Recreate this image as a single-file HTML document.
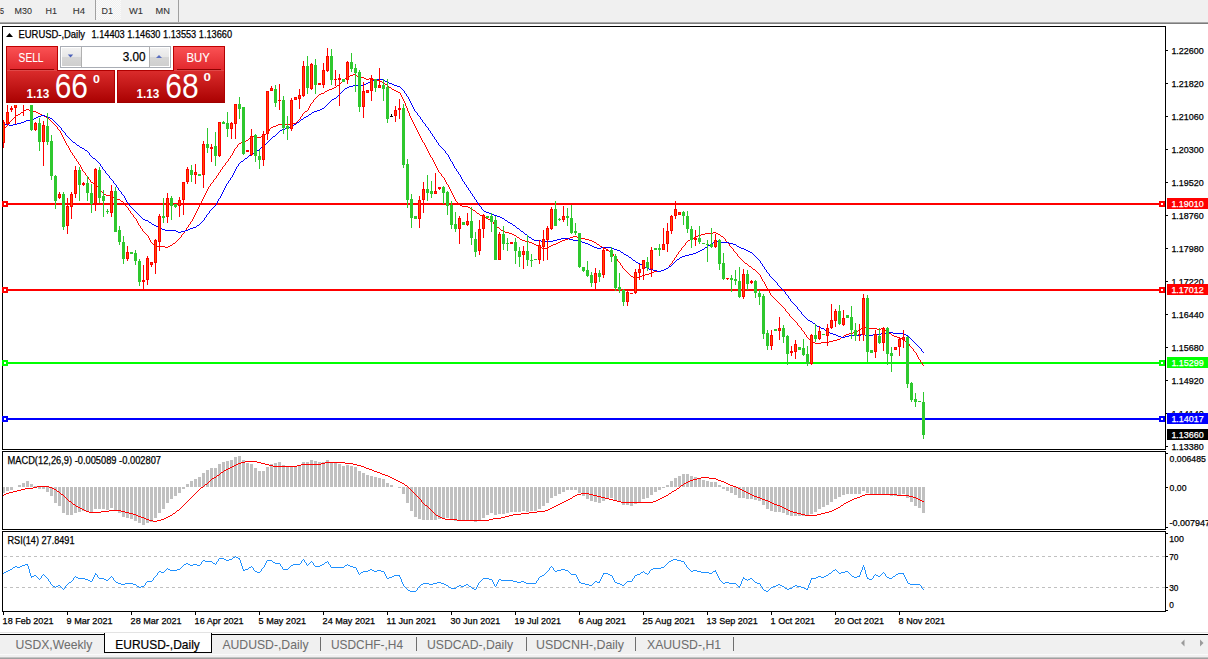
<!DOCTYPE html><html><head><meta charset="utf-8"><style>html,body{margin:0;padding:0;background:#fff;width:1208px;height:659px;overflow:hidden}</style></head><body><svg width="1208" height="659" viewBox="0 0 1208 659" style="display:block;font-family:'Liberation Sans', sans-serif"><defs><linearGradient id="gsell" x1="0" y1="0" x2="0" y2="1"><stop offset="0" stop-color="#fb5355"/><stop offset="1" stop-color="#e0262b"/></linearGradient><linearGradient id="gprice" x1="0" y1="0" x2="0" y2="1"><stop offset="0" stop-color="#db2d2d"/><stop offset="1" stop-color="#a90000"/></linearGradient><linearGradient id="gspin" x1="0" y1="0" x2="0" y2="1"><stop offset="0" stop-color="#f2f2f2"/><stop offset="0.5" stop-color="#e6e6e6"/><stop offset="0.5" stop-color="#d6d6d6"/><stop offset="1" stop-color="#cfcfcf"/></linearGradient><pattern id="dith" width="2" height="2" patternUnits="userSpaceOnUse"><rect width="2" height="2" fill="#f0f0f0"/><rect width="1" height="1" fill="#fafafa"/><rect x="1" y="1" width="1" height="1" fill="#fafafa"/></pattern></defs><rect x="0" y="0" width="1208" height="659" fill="#ffffff" /><rect x="0" y="0" width="1208" height="22" fill="#f0f0f0" /><rect x="95" y="0" width="26" height="20" fill="url(#dith)" /><rect x="95" y="0" width="1" height="20" fill="#a0a0a0" /><rect x="178" y="0" width="1" height="22" fill="#a0a0a0" /><text x="0" y="13.7" font-size="9.6" fill="#333" text-anchor="start" font-weight="normal" textLength="4" lengthAdjust="spacingAndGlyphs" stroke="#333" stroke-width="0.1" >5</text><text x="14.6" y="13.7" font-size="9.6" fill="#333" text-anchor="start" font-weight="normal" textLength="17.4" lengthAdjust="spacingAndGlyphs" stroke="#333" stroke-width="0.1" >M30</text><text x="45.5" y="13.7" font-size="9.6" fill="#333" text-anchor="start" font-weight="normal" textLength="11.5" lengthAdjust="spacingAndGlyphs" stroke="#333" stroke-width="0.1" >H1</text><text x="72.7" y="13.7" font-size="9.6" fill="#333" text-anchor="start" font-weight="normal" textLength="12.3" lengthAdjust="spacingAndGlyphs" stroke="#333" stroke-width="0.1" >H4</text><text x="101.6" y="13.7" font-size="9.6" fill="#333" text-anchor="start" font-weight="normal" textLength="11.4" lengthAdjust="spacingAndGlyphs" stroke="#333" stroke-width="0.1" >D1</text><text x="129" y="13.7" font-size="9.6" fill="#333" text-anchor="start" font-weight="normal" textLength="14" lengthAdjust="spacingAndGlyphs" stroke="#333" stroke-width="0.1" >W1</text><text x="155.6" y="13.7" font-size="9.6" fill="#333" text-anchor="start" font-weight="normal" textLength="14.4" lengthAdjust="spacingAndGlyphs" stroke="#333" stroke-width="0.1" >MN</text><rect x="0" y="22" width="1208" height="1" fill="#a9a9a9" /><rect x="0" y="23" width="1208" height="1" fill="#7c7c7c" /><g shape-rendering="crispEdges"><rect x="2.5" y="26.5" width="1163" height="423" fill="none" stroke="#000" stroke-width="1"/><rect x="0" y="450" width="1208" height="1" fill="#ffffff" /><rect x="2.5" y="451.5" width="1163" height="78" fill="none" stroke="#000" stroke-width="1"/><rect x="0" y="530" width="1208" height="1" fill="#ffffff" /><rect x="2.5" y="531.5" width="1163" height="80" fill="none" stroke="#000" stroke-width="1"/></g><g shape-rendering="crispEdges"><rect x="1166" y="50" width="2" height="1" fill="#000" /><rect x="1166" y="83" width="2" height="1" fill="#000" /><rect x="1166" y="116" width="2" height="1" fill="#000" /><rect x="1166" y="149" width="2" height="1" fill="#000" /><rect x="1166" y="182" width="2" height="1" fill="#000" /><rect x="1166" y="215" width="2" height="1" fill="#000" /><rect x="1166" y="248" width="2" height="1" fill="#000" /><rect x="1166" y="281" width="2" height="1" fill="#000" /><rect x="1166" y="314" width="2" height="1" fill="#000" /><rect x="1166" y="347" width="2" height="1" fill="#000" /><rect x="1166" y="380" width="2" height="1" fill="#000" /><rect x="1166" y="413" width="2" height="1" fill="#000" /><rect x="1166" y="446" width="2" height="1" fill="#000" /></g><text x="1171.4" y="53.6" font-size="9.6" fill="#000" text-anchor="start" font-weight="normal" textLength="32.4" lengthAdjust="spacingAndGlyphs" stroke="#000" stroke-width="0.25" >1.22600</text><text x="1171.4" y="86.6" font-size="9.6" fill="#000" text-anchor="start" font-weight="normal" textLength="32.4" lengthAdjust="spacingAndGlyphs" stroke="#000" stroke-width="0.25" >1.21820</text><text x="1171.4" y="119.6" font-size="9.6" fill="#000" text-anchor="start" font-weight="normal" textLength="32.4" lengthAdjust="spacingAndGlyphs" stroke="#000" stroke-width="0.25" >1.21060</text><text x="1171.4" y="152.6" font-size="9.6" fill="#000" text-anchor="start" font-weight="normal" textLength="32.4" lengthAdjust="spacingAndGlyphs" stroke="#000" stroke-width="0.25" >1.20300</text><text x="1171.4" y="185.6" font-size="9.6" fill="#000" text-anchor="start" font-weight="normal" textLength="32.4" lengthAdjust="spacingAndGlyphs" stroke="#000" stroke-width="0.25" >1.19520</text><text x="1171.4" y="218.6" font-size="9.6" fill="#000" text-anchor="start" font-weight="normal" textLength="32.4" lengthAdjust="spacingAndGlyphs" stroke="#000" stroke-width="0.25" >1.18760</text><text x="1171.4" y="251.6" font-size="9.6" fill="#000" text-anchor="start" font-weight="normal" textLength="32.4" lengthAdjust="spacingAndGlyphs" stroke="#000" stroke-width="0.25" >1.17980</text><text x="1171.4" y="284.6" font-size="9.6" fill="#000" text-anchor="start" font-weight="normal" textLength="32.4" lengthAdjust="spacingAndGlyphs" stroke="#000" stroke-width="0.25" >1.17220</text><text x="1171.4" y="317.6" font-size="9.6" fill="#000" text-anchor="start" font-weight="normal" textLength="32.4" lengthAdjust="spacingAndGlyphs" stroke="#000" stroke-width="0.25" >1.16440</text><text x="1171.4" y="350.6" font-size="9.6" fill="#000" text-anchor="start" font-weight="normal" textLength="32.4" lengthAdjust="spacingAndGlyphs" stroke="#000" stroke-width="0.25" >1.15680</text><text x="1171.4" y="383.6" font-size="9.6" fill="#000" text-anchor="start" font-weight="normal" textLength="32.4" lengthAdjust="spacingAndGlyphs" stroke="#000" stroke-width="0.25" >1.14920</text><text x="1171.4" y="416.6" font-size="9.6" fill="#000" text-anchor="start" font-weight="normal" textLength="32.4" lengthAdjust="spacingAndGlyphs" stroke="#000" stroke-width="0.25" >1.14140</text><text x="1171.4" y="449.6" font-size="9.6" fill="#000" text-anchor="start" font-weight="normal" textLength="32.4" lengthAdjust="spacingAndGlyphs" stroke="#000" stroke-width="0.25" >1.13380</text><clipPath id="cmain"><rect x="3" y="27" width="1162" height="422"/></clipPath><clipPath id="cmacd"><rect x="3" y="452" width="1162" height="77"/></clipPath><clipPath id="crsi"><rect x="3" y="532" width="1162" height="79"/></clipPath><g shape-rendering="crispEdges"><rect x="3" y="203" width="1162" height="2" fill="#ff0000" /><rect x="2" y="201" width="6" height="6" fill="#ff0000" /><rect x="4" y="203" width="2" height="2" fill="#fff" /><rect x="1159" y="201" width="6" height="6" fill="#ff0000" /><rect x="1161" y="203" width="2" height="2" fill="#fff" /><rect x="3" y="289" width="1162" height="2" fill="#ff0000" /><rect x="2" y="287" width="6" height="6" fill="#ff0000" /><rect x="4" y="289" width="2" height="2" fill="#fff" /><rect x="1159" y="287" width="6" height="6" fill="#ff0000" /><rect x="1161" y="289" width="2" height="2" fill="#fff" /><rect x="3" y="362" width="1162" height="2" fill="#00ff00" /><rect x="2" y="360" width="6" height="6" fill="#00ff00" /><rect x="4" y="362" width="2" height="2" fill="#fff" /><rect x="1159" y="360" width="6" height="6" fill="#00ff00" /><rect x="1161" y="362" width="2" height="2" fill="#fff" /><rect x="3" y="418" width="1162" height="2" fill="#0000ff" /><rect x="2" y="416" width="6" height="6" fill="#0000ff" /><rect x="4" y="418" width="2" height="2" fill="#fff" /><rect x="1159" y="416" width="6" height="6" fill="#0000ff" /><rect x="1161" y="418" width="2" height="2" fill="#fff" /></g><path clip-path="url(#cmain)" fill="#ff0000" shape-rendering="crispEdges" d="M801 329h1v1h-1zM860 329h1v1h-1zM877 329h4v1h-4zM884 329h1v1h-1zM151 242h1v1h-1zM175 242h1v1h-1zM529 242h3v1h-3zM558 242h2v1h-2zM594 242h2v1h-2zM686 242h1v1h-1zM727 242h1v1h-1zM781 305h1v1h-1zM345 78h2v1h-2zM364 78h2v1h-2zM369 78h4v1h-4zM4 128h1v1h-1zM57 128h1v1h-1zM270 128h1v1h-1zM416 128h1v1h-1zM24 110h2v1h-2zM29 110h4v1h-4zM307 110h1v1h-1zM407 110h1v1h-1zM131 213h1v1h-1zM195 213h1v1h-1zM477 213h2v1h-2zM329 89h3v1h-3zM392 89h2v1h-2zM146 234h1v1h-1zM182 234h1v1h-1zM512 234h2v1h-2zM701 234h4v1h-4zM718 234h2v1h-2zM150 240h1v1h-1zM177 240h1v1h-1zM522 240h3v1h-3zM562 240h3v1h-3zM589 240h3v1h-3zM688 240h2v1h-2zM725 240h1v1h-1zM800 327h1v1h-1zM862 327h1v1h-1zM865 327h4v1h-4zM125 205h1v1h-1zM199 205h1v1h-1zM460 205h2v1h-2zM807 337h1v1h-1zM841 337h2v1h-2zM897 337h3v1h-3zM327 90h2v1h-2zM394 90h2v1h-2zM115 198h2v1h-2zM203 198h1v1h-1zM454 198h1v1h-1zM10 121h1v1h-1zM51 121h1v1h-1zM297 121h1v1h-1zM412 121h1v1h-1zM617 259h1v1h-1zM674 259h1v1h-1zM741 259h1v1h-1zM14 117h1v1h-1zM46 117h2v1h-2zM300 117h1v1h-1zM410 117h1v1h-1zM626 271h1v1h-1zM654 271h7v1h-7zM756 271h1v1h-1zM127 207h1v1h-1zM198 207h1v1h-1zM468 207h2v1h-2zM813 342h2v1h-2zM821 342h8v1h-8zM907 342h1v1h-1zM147 235h1v1h-1zM181 235h1v1h-1zM514 235h2v1h-2zM698 235h3v1h-3zM720 235h1v1h-1zM542 248h6v1h-6zM604 248h2v1h-2zM681 248h1v1h-1zM732 248h1v1h-1zM61 133h1v1h-1zM266 133h1v1h-1zM418 133h1v1h-1zM86 175h1v1h-1zM217 175h1v1h-1zM441 175h1v1h-1zM339 84h1v1h-1zM385 84h2v1h-2zM3 129h1v1h-1zM58 129h1v1h-1zM269 129h1v1h-1zM416 129h1v1h-1zM126 206h1v1h-1zM199 206h1v1h-1zM462 206h6v1h-6zM625 270h1v1h-1zM661 270h3v1h-3zM755 270h1v1h-1zM812 341h1v1h-1zM829 341h4v1h-4zM905 341h2v1h-2zM804 333h1v1h-1zM849 333h4v1h-4zM889 333h2v1h-2zM336 86h1v1h-1zM388 86h1v1h-1zM157 246h8v1h-8zM168 246h2v1h-2zM538 246h2v1h-2zM549 246h2v1h-2zM600 246h2v1h-2zM683 246h1v1h-1zM730 246h1v1h-1zM324 92h1v1h-1zM398 92h2v1h-2zM148 237h1v1h-1zM180 237h1v1h-1zM517 237h2v1h-2zM570 237h3v1h-3zM577 237h4v1h-4zM694 237h2v1h-2zM723 237h1v1h-1zM117 199h3v1h-3zM202 199h1v1h-1zM455 199h1v1h-1zM308 108h1v1h-1zM407 108h1v1h-1zM313 101h1v1h-1zM404 101h1v1h-1zM630 275h1v1h-1zM642 275h3v1h-3zM760 275h1v1h-1zM622 266h1v1h-1zM669 266h1v1h-1zM749 266h2v1h-2zM344 79h1v1h-1zM366 79h3v1h-3zM373 79h4v1h-4zM90 181h1v1h-1zM213 181h1v1h-1zM445 181h1v1h-1zM334 87h2v1h-2zM389 87h2v1h-2zM801 328h1v1h-1zM861 328h1v1h-1zM869 328h8v1h-8zM881 328h3v1h-3zM20 113h1v1h-1zM38 113h2v1h-2zM303 113h1v1h-1zM409 113h1v1h-1zM60 132h1v1h-1zM267 132h1v1h-1zM418 132h1v1h-1zM631 276h2v1h-2zM640 276h2v1h-2zM760 276h1v1h-1zM153 244h2v1h-2zM172 244h1v1h-1zM534 244h2v1h-2zM553 244h3v1h-3zM597 244h2v1h-2zM685 244h1v1h-1zM729 244h1v1h-1zM112 196h1v1h-1zM204 196h1v1h-1zM453 196h1v1h-1zM920 360h1v1h-1zM128 208h1v1h-1zM198 208h1v1h-1zM470 208h2v1h-2zM145 233h1v1h-1zM183 233h1v1h-1zM509 233h3v1h-3zM705 233h8v1h-8zM716 233h2v1h-2zM612 253h1v1h-1zM678 253h1v1h-1zM736 253h1v1h-1zM614 256h1v1h-1zM676 256h1v1h-1zM738 256h1v1h-1zM69 149h1v1h-1zM234 149h1v1h-1zM427 149h1v1h-1zM62 136h1v1h-1zM253 136h4v1h-4zM261 136h3v1h-3zM420 136h1v1h-1zM7 125h1v1h-1zM55 125h1v1h-1zM276 125h2v1h-2zM414 125h1v1h-1zM799 326h1v1h-1zM863 326h2v1h-2zM916 353h1v1h-1zM93 183h3v1h-3zM211 183h1v1h-1zM446 183h1v1h-1zM102 192h1v1h-1zM206 192h1v1h-1zM451 192h1v1h-1zM12 119h1v1h-1zM49 119h1v1h-1zM299 119h1v1h-1zM411 119h1v1h-1zM138 224h1v1h-1zM189 224h1v1h-1zM494 224h1v1h-1zM113 197h2v1h-2zM203 197h1v1h-1zM454 197h1v1h-1zM80 166h1v1h-1zM223 166h1v1h-1zM436 166h1v1h-1zM802 330h1v1h-1zM858 330h2v1h-2zM885 330h2v1h-2zM80 165h1v1h-1zM224 165h1v1h-1zM435 165h1v1h-1zM63 138h1v1h-1zM249 138h2v1h-2zM421 138h1v1h-1zM130 212h1v1h-1zM196 212h1v1h-1zM476 212h1v1h-1zM139 225h1v1h-1zM188 225h1v1h-1zM495 225h1v1h-1zM100 190h1v1h-1zM207 190h1v1h-1zM450 190h1v1h-1zM803 331h1v1h-1zM856 331h2v1h-2zM887 331h1v1h-1zM133 215h1v1h-1zM194 215h1v1h-1zM480 215h2v1h-2zM343 80h1v1h-1zM377 80h3v1h-3zM348 76h2v1h-2zM357 76h2v1h-2zM74 156h1v1h-1zM230 156h1v1h-1zM430 156h1v1h-1zM809 339h2v1h-2zM837 339h3v1h-3zM902 339h2v1h-2zM144 232h1v1h-1zM184 232h1v1h-1zM505 232h4v1h-4zM713 232h3v1h-3zM9 123h1v1h-1zM53 123h1v1h-1zM293 123h3v1h-3zM413 123h1v1h-1zM316 97h1v1h-1zM402 97h1v1h-1zM6 126h1v1h-1zM56 126h1v1h-1zM273 126h3v1h-3zM415 126h1v1h-1zM8 124h1v1h-1zM54 124h1v1h-1zM278 124h15v1h-15zM414 124h1v1h-1zM85 173h1v1h-1zM218 173h1v1h-1zM440 173h1v1h-1zM148 236h1v1h-1zM181 236h1v1h-1zM516 236h1v1h-1zM573 236h4v1h-4zM696 236h2v1h-2zM721 236h2v1h-2zM149 239h1v1h-1zM178 239h1v1h-1zM520 239h2v1h-2zM565 239h3v1h-3zM585 239h4v1h-4zM690 239h2v1h-2zM725 239h1v1h-1zM770 294h1v1h-1zM319 94h2v1h-2zM400 94h1v1h-1zM633 277h7v1h-7zM761 277h1v1h-1zM608 250h1v1h-1zM680 250h1v1h-1zM733 250h1v1h-1zM619 262h1v1h-1zM672 262h1v1h-1zM744 262h1v1h-1zM137 222h1v1h-1zM190 222h1v1h-1zM493 222h1v1h-1zM63 137h1v1h-1zM251 137h2v1h-2zM257 137h4v1h-4zM420 137h1v1h-1zM89 179h1v1h-1zM214 179h1v1h-1zM444 179h1v1h-1zM353 74h3v1h-3zM792 318h1v1h-1zM909 345h1v1h-1zM155 245h2v1h-2zM170 245h2v1h-2zM536 245h2v1h-2zM551 245h2v1h-2zM599 245h1v1h-1zM684 245h1v1h-1zM729 245h1v1h-1zM59 130h1v1h-1zM269 130h1v1h-1zM417 130h1v1h-1zM149 238h1v1h-1zM179 238h1v1h-1zM519 238h1v1h-1zM568 238h2v1h-2zM581 238h4v1h-4zM692 238h2v1h-2zM724 238h1v1h-1zM165 247h3v1h-3zM540 247h2v1h-2zM548 247h1v1h-1zM602 247h2v1h-2zM682 247h1v1h-1zM731 247h1v1h-1zM123 202h1v1h-1zM201 202h1v1h-1zM457 202h1v1h-1zM923 365h1v1h-1zM84 172h1v1h-1zM219 172h1v1h-1zM439 172h1v1h-1zM623 268h1v1h-1zM666 268h2v1h-2zM752 268h1v1h-1zM21 112h2v1h-2zM36 112h2v1h-2zM304 112h1v1h-1zM408 112h1v1h-1zM613 255h1v1h-1zM676 255h1v1h-1zM737 255h1v1h-1zM347 77h1v1h-1zM359 77h5v1h-5zM615 257h1v1h-1zM675 257h1v1h-1zM739 257h1v1h-1zM609 251h2v1h-2zM679 251h1v1h-1zM734 251h1v1h-1zM622 267h1v1h-1zM668 267h1v1h-1zM751 267h1v1h-1zM142 229h1v1h-1zM186 229h1v1h-1zM500 229h1v1h-1zM340 83h1v1h-1zM384 83h1v1h-1zM64 140h1v1h-1zM246 140h2v1h-2zM422 140h1v1h-1zM26 109h3v1h-3zM308 109h1v1h-1zM407 109h1v1h-1zM18 114h2v1h-2zM40 114h2v1h-2zM302 114h1v1h-1zM409 114h1v1h-1zM76 159h1v1h-1zM228 159h1v1h-1zM432 159h1v1h-1zM606 249h2v1h-2zM681 249h1v1h-1zM733 249h1v1h-1zM79 164h1v1h-1zM225 164h1v1h-1zM435 164h1v1h-1zM120 200h1v1h-1zM202 200h1v1h-1zM455 200h1v1h-1zM309 106h1v1h-1zM406 106h1v1h-1zM785 310h1v1h-1zM11 120h1v1h-1zM50 120h1v1h-1zM298 120h1v1h-1zM412 120h1v1h-1zM71 152h1v1h-1zM233 152h1v1h-1zM428 152h1v1h-1zM766 287h1v1h-1zM342 81h1v1h-1zM380 81h2v1h-2zM150 241h1v1h-1zM176 241h1v1h-1zM525 241h4v1h-4zM560 241h2v1h-2zM592 241h2v1h-2zM687 241h1v1h-1zM726 241h1v1h-1zM815 343h6v1h-6zM908 343h1v1h-1zM99 189h1v1h-1zM207 189h1v1h-1zM450 189h1v1h-1zM96 185h1v1h-1zM210 185h1v1h-1zM448 185h1v1h-1zM762 280h1v1h-1zM81 168h1v1h-1zM222 168h1v1h-1zM437 168h1v1h-1zM104 194h2v1h-2zM205 194h1v1h-1zM452 194h1v1h-1zM128 209h1v1h-1zM197 209h1v1h-1zM472 209h1v1h-1zM313 100h1v1h-1zM403 100h1v1h-1zM325 91h2v1h-2zM396 91h2v1h-2zM106 195h6v1h-6zM204 195h1v1h-1zM453 195h1v1h-1zM776 300h1v1h-1zM60 131h1v1h-1zM268 131h1v1h-1zM417 131h1v1h-1zM786 311h1v1h-1zM78 162h1v1h-1zM226 162h1v1h-1zM434 162h1v1h-1zM75 158h1v1h-1zM229 158h1v1h-1zM432 158h1v1h-1zM805 334h1v1h-1zM846 334h3v1h-3zM891 334h1v1h-1zM82 170h1v1h-1zM220 170h1v1h-1zM438 170h1v1h-1zM777 301h1v1h-1zM98 188h1v1h-1zM208 188h1v1h-1zM449 188h1v1h-1zM125 204h1v1h-1zM200 204h1v1h-1zM459 204h1v1h-1zM350 75h3v1h-3zM356 75h1v1h-1zM65 142h1v1h-1zM241 142h3v1h-3zM423 142h1v1h-1zM87 176h1v1h-1zM216 176h1v1h-1zM442 176h1v1h-1zM129 210h1v1h-1zM197 210h1v1h-1zM473 210h2v1h-2zM74 157h1v1h-1zM230 157h1v1h-1zM431 157h1v1h-1zM141 228h1v1h-1zM186 228h1v1h-1zM499 228h1v1h-1zM783 307h1v1h-1zM310 105h1v1h-1zM405 105h1v1h-1zM804 332h1v1h-1zM853 332h3v1h-3zM888 332h1v1h-1zM88 178h1v1h-1zM215 178h1v1h-1zM444 178h1v1h-1zM70 151h1v1h-1zM233 151h1v1h-1zM428 151h1v1h-1zM64 139h1v1h-1zM248 139h1v1h-1zM421 139h1v1h-1zM628 273h1v1h-1zM649 273h3v1h-3zM758 273h1v1h-1zM784 308h1v1h-1zM627 272h1v1h-1zM652 272h2v1h-2zM757 272h1v1h-1zM765 285h1v1h-1zM806 335h1v1h-1zM844 335h2v1h-2zM892 335h2v1h-2zM769 292h1v1h-1zM15 116h1v1h-1zM44 116h2v1h-2zM301 116h1v1h-1zM410 116h1v1h-1zM620 264h1v1h-1zM670 264h1v1h-1zM747 264h1v1h-1zM134 217h1v1h-1zM193 217h1v1h-1zM484 217h2v1h-2zM922 363h1v1h-1zM315 98h1v1h-1zM402 98h1v1h-1zM136 220h1v1h-1zM192 220h1v1h-1zM490 220h2v1h-2zM321 93h3v1h-3zM400 93h1v1h-1zM103 193h1v1h-1zM205 193h1v1h-1zM452 193h1v1h-1zM9 122h1v1h-1zM52 122h1v1h-1zM296 122h1v1h-1zM413 122h1v1h-1zM143 231h1v1h-1zM184 231h1v1h-1zM503 231h2v1h-2zM78 163h1v1h-1zM225 163h1v1h-1zM434 163h1v1h-1zM13 118h1v1h-1zM48 118h1v1h-1zM300 118h1v1h-1zM411 118h1v1h-1zM16 115h2v1h-2zM42 115h2v1h-2zM302 115h1v1h-1zM409 115h1v1h-1zM66 144h1v1h-1zM238 144h1v1h-1zM424 144h1v1h-1zM135 218h1v1h-1zM193 218h1v1h-1zM486 218h2v1h-2zM23 111h1v1h-1zM33 111h3v1h-3zM305 111h2v1h-2zM408 111h1v1h-1zM806 336h1v1h-1zM843 336h1v1h-1zM894 336h3v1h-3zM152 243h1v1h-1zM173 243h2v1h-2zM532 243h2v1h-2zM556 243h2v1h-2zM596 243h1v1h-1zM685 243h1v1h-1zM728 243h1v1h-1zM70 150h1v1h-1zM234 150h1v1h-1zM427 150h1v1h-1zM133 216h1v1h-1zM194 216h1v1h-1zM482 216h2v1h-2zM811 340h1v1h-1zM833 340h4v1h-4zM904 340h1v1h-1zM65 141h1v1h-1zM244 141h2v1h-2zM422 141h1v1h-1zM332 88h2v1h-2zM391 88h1v1h-1zM142 230h1v1h-1zM185 230h1v1h-1zM501 230h2v1h-2zM310 104h1v1h-1zM405 104h1v1h-1zM618 261h1v1h-1zM672 261h1v1h-1zM743 261h1v1h-1zM761 278h1v1h-1zM88 177h1v1h-1zM216 177h1v1h-1zM443 177h1v1h-1zM121 201h2v1h-2zM201 201h1v1h-1zM456 201h1v1h-1zM765 284h1v1h-1zM5 127h1v1h-1zM57 127h1v1h-1zM271 127h2v1h-2zM415 127h1v1h-1zM808 338h1v1h-1zM840 338h1v1h-1zM900 338h2v1h-2zM98 187h1v1h-1zM208 187h1v1h-1zM449 187h1v1h-1zM613 254h1v1h-1zM677 254h1v1h-1zM737 254h1v1h-1zM97 186h1v1h-1zM209 186h1v1h-1zM448 186h1v1h-1zM318 95h1v1h-1zM401 95h1v1h-1zM72 153h1v1h-1zM232 153h1v1h-1zM429 153h1v1h-1zM77 161h1v1h-1zM227 161h1v1h-1zM433 161h1v1h-1zM85 174h1v1h-1zM218 174h1v1h-1zM441 174h1v1h-1zM617 260h1v1h-1zM673 260h1v1h-1zM742 260h1v1h-1zM624 269h1v1h-1zM664 269h2v1h-2zM753 269h2v1h-2zM132 214h1v1h-1zM195 214h1v1h-1zM479 214h1v1h-1zM73 155h1v1h-1zM231 155h1v1h-1zM430 155h1v1h-1zM76 160h1v1h-1zM228 160h1v1h-1zM433 160h1v1h-1zM91 182h2v1h-2zM212 182h1v1h-1zM446 182h1v1h-1zM337 85h2v1h-2zM387 85h1v1h-1zM768 290h1v1h-1zM66 143h1v1h-1zM239 143h2v1h-2zM424 143h1v1h-1zM136 219h1v1h-1zM192 219h1v1h-1zM488 219h2v1h-2zM312 102h1v1h-1zM404 102h1v1h-1zM341 82h1v1h-1zM382 82h2v1h-2zM764 283h1v1h-1zM793 319h1v1h-1zM629 274h1v1h-1zM645 274h4v1h-4zM759 274h1v1h-1zM90 180h1v1h-1zM213 180h1v1h-1zM445 180h1v1h-1zM311 103h1v1h-1zM405 103h1v1h-1zM611 252h1v1h-1zM678 252h1v1h-1zM735 252h1v1h-1zM794 320h1v1h-1zM140 226h1v1h-1zM188 226h1v1h-1zM496 226h1v1h-1zM72 154h1v1h-1zM232 154h1v1h-1zM429 154h1v1h-1zM779 303h1v1h-1zM68 147h1v1h-1zM236 147h1v1h-1zM426 147h1v1h-1zM771 295h1v1h-1zM69 148h1v1h-1zM235 148h1v1h-1zM426 148h1v1h-1zM621 265h1v1h-1zM669 265h1v1h-1zM748 265h1v1h-1zM767 288h1v1h-1zM910 346h1v1h-1zM768 289h1v1h-1zM124 203h1v1h-1zM200 203h1v1h-1zM458 203h1v1h-1zM317 96h1v1h-1zM401 96h1v1h-1zM778 302h1v1h-1zM101 191h1v1h-1zM206 191h1v1h-1zM451 191h1v1h-1zM616 258h1v1h-1zM674 258h1v1h-1zM740 258h1v1h-1zM309 107h1v1h-1zM406 107h1v1h-1zM96 184h1v1h-1zM210 184h1v1h-1zM447 184h1v1h-1zM130 211h1v1h-1zM196 211h1v1h-1zM475 211h1v1h-1zM912 348h1v1h-1zM770 293h1v1h-1zM68 146h1v1h-1zM237 146h1v1h-1zM425 146h1v1h-1zM763 281h1v1h-1zM909 344h1v1h-1zM61 134h1v1h-1zM265 134h1v1h-1zM419 134h1v1h-1zM797 324h1v1h-1zM137 221h1v1h-1zM191 221h1v1h-1zM492 221h1v1h-1zM785 309h1v1h-1zM766 286h1v1h-1zM620 263h1v1h-1zM671 263h1v1h-1zM745 263h2v1h-2zM789 315h1v1h-1zM762 279h1v1h-1zM81 167h1v1h-1zM222 167h1v1h-1zM436 167h1v1h-1zM913 350h1v1h-1zM314 99h1v1h-1zM403 99h1v1h-1zM795 321h1v1h-1zM796 322h1v1h-1zM67 145h1v1h-1zM237 145h1v1h-1zM425 145h1v1h-1zM769 291h1v1h-1zM788 313h1v1h-1zM920 361h1v1h-1zM913 349h1v1h-1zM916 354h1v1h-1zM140 227h1v1h-1zM187 227h1v1h-1zM497 227h2v1h-2zM787 312h1v1h-1zM772 296h1v1h-1zM773 297h1v1h-1zM138 223h1v1h-1zM190 223h1v1h-1zM493 223h1v1h-1zM911 347h1v1h-1zM780 304h1v1h-1zM62 135h1v1h-1zM264 135h1v1h-1zM419 135h1v1h-1zM764 282h1v1h-1zM791 317h1v1h-1zM918 358h1v1h-1zM919 359h1v1h-1zM83 171h1v1h-1zM220 171h1v1h-1zM438 171h1v1h-1zM798 325h1v1h-1zM82 169h1v1h-1zM221 169h1v1h-1zM437 169h1v1h-1zM790 316h1v1h-1zM914 351h1v1h-1zM922 364h1v1h-1zM915 352h1v1h-1zM918 357h1v1h-1zM774 298h1v1h-1zM917 356h1v1h-1zM775 299h1v1h-1zM921 362h1v1h-1zM797 323h1v1h-1zM782 306h1v1h-1zM789 314h1v1h-1zM917 355h1v1h-1z"/><path clip-path="url(#cmain)" fill="#0000ff" shape-rendering="crispEdges" d="M105 171h1v1h-1zM234 171h1v1h-1zM457 171h1v1h-1zM67 136h1v1h-1zM273 136h2v1h-2zM433 136h1v1h-1zM126 200h1v1h-1zM218 200h1v1h-1zM476 200h1v1h-1zM97 161h1v1h-1zM241 161h2v1h-2zM451 161h1v1h-1zM162 229h3v1h-3zM188 229h2v1h-2zM519 229h1v1h-1zM176 231h2v1h-2zM181 231h4v1h-4zM521 231h2v1h-2zM80 147h2v1h-2zM261 147h2v1h-2zM441 147h1v1h-1zM101 166h1v1h-1zM237 166h1v1h-1zM454 166h1v1h-1zM105 172h1v1h-1zM234 172h1v1h-1zM458 172h1v1h-1zM111 179h1v1h-1zM230 179h1v1h-1zM462 179h1v1h-1zM841 337h4v1h-4zM909 337h1v1h-1zM135 211h1v1h-1zM209 211h1v1h-1zM484 211h2v1h-2zM121 192h1v1h-1zM222 192h1v1h-1zM470 192h1v1h-1zM657 271h4v1h-4zM766 271h1v1h-1zM61 128h1v1h-1zM285 128h3v1h-3zM428 128h1v1h-1zM65 134h1v1h-1zM276 134h1v1h-1zM432 134h1v1h-1zM36 117h2v1h-2zM48 117h2v1h-2zM304 117h2v1h-2zM420 117h1v1h-1zM377 79h7v1h-7zM532 239h2v1h-2zM557 239h4v1h-4zM569 239h4v1h-4zM534 240h7v1h-7zM553 240h4v1h-4zM573 240h7v1h-7zM3 124h6v1h-6zM13 124h4v1h-4zM57 124h1v1h-1zM294 124h2v1h-2zM425 124h1v1h-1zM65 133h1v1h-1zM277 133h1v1h-1zM431 133h1v1h-1zM109 177h1v1h-1zM231 177h1v1h-1zM461 177h1v1h-1zM156 226h2v1h-2zM196 226h1v1h-1zM515 226h1v1h-1zM160 228h2v1h-2zM190 228h3v1h-3zM517 228h2v1h-2zM89 154h1v1h-1zM251 154h1v1h-1zM447 154h1v1h-1zM149 222h2v1h-2zM201 222h1v1h-1zM508 222h2v1h-2zM541 241h12v1h-12zM580 241h2v1h-2zM715 241h6v1h-6zM790 300h1v1h-1zM833 334h3v1h-3zM861 334h4v1h-4zM873 334h8v1h-8zM904 334h2v1h-2zM825 330h2v1h-2zM34 118h2v1h-2zM50 118h2v1h-2zM303 118h1v1h-1zM420 118h1v1h-1zM116 185h1v1h-1zM226 185h1v1h-1zM466 185h1v1h-1zM62 130h1v1h-1zM280 130h2v1h-2zM429 130h1v1h-1zM644 266h1v1h-1zM669 266h2v1h-2zM763 266h1v1h-1zM70 139h1v1h-1zM270 139h1v1h-1zM435 139h1v1h-1zM528 236h1v1h-1zM631 258h1v1h-1zM679 258h1v1h-1zM757 258h1v1h-1zM910 338h1v1h-1zM347 87h2v1h-2zM400 87h1v1h-1zM100 165h1v1h-1zM238 165h1v1h-1zM453 165h1v1h-1zM819 327h2v1h-2zM836 335h2v1h-2zM849 335h12v1h-12zM865 335h8v1h-8zM906 335h2v1h-2zM349 86h4v1h-4zM397 86h3v1h-3zM797 308h1v1h-1zM529 237h2v1h-2zM89 153h1v1h-1zM252 153h2v1h-2zM446 153h1v1h-1zM72 141h1v1h-1zM268 141h1v1h-1zM436 141h1v1h-1zM623 253h1v1h-1zM693 253h3v1h-3zM752 253h1v1h-1zM614 249h3v1h-3zM702 249h2v1h-2zM744 249h2v1h-2zM364 84h2v1h-2zM392 84h2v1h-2zM26 120h6v1h-6zM53 120h1v1h-1zM300 120h1v1h-1zM422 120h1v1h-1zM314 111h3v1h-3zM415 111h1v1h-1zM778 285h1v1h-1zM145 220h3v1h-3zM203 220h1v1h-1zM505 220h2v1h-2zM124 197h1v1h-1zM220 197h1v1h-1zM474 197h1v1h-1zM821 328h3v1h-3zM339 94h1v1h-1zM406 94h1v1h-1zM38 116h3v1h-3zM45 116h3v1h-3zM306 116h2v1h-2zM419 116h1v1h-1zM127 202h1v1h-1zM217 202h1v1h-1zM477 202h1v1h-1zM916 344h1v1h-1zM328 103h1v1h-1zM411 103h1v1h-1zM139 215h1v1h-1zM206 215h1v1h-1zM494 215h3v1h-3zM582 242h3v1h-3zM713 242h2v1h-2zM721 242h8v1h-8zM165 230h11v1h-11zM185 230h3v1h-3zM520 230h1v1h-1zM353 85h11v1h-11zM394 85h3v1h-3zM917 345h1v1h-1zM98 162h1v1h-1zM240 162h1v1h-1zM452 162h1v1h-1zM136 212h1v1h-1zM209 212h1v1h-1zM486 212h3v1h-3zM624 254h2v1h-2zM689 254h4v1h-4zM753 254h1v1h-1zM629 257h2v1h-2zM680 257h2v1h-2zM756 257h1v1h-1zM785 293h1v1h-1zM115 184h1v1h-1zM226 184h1v1h-1zM465 184h1v1h-1zM838 336h3v1h-3zM845 336h4v1h-4zM908 336h1v1h-1zM815 324h1v1h-1zM134 210h1v1h-1zM210 210h1v1h-1zM483 210h1v1h-1zM594 247h3v1h-3zM601 247h11v1h-11zM705 247h2v1h-2zM739 247h2v1h-2zM817 326h2v1h-2zM588 244h2v1h-2zM710 244h2v1h-2zM733 244h3v1h-3zM140 216h1v1h-1zM206 216h1v1h-1zM497 216h3v1h-3zM119 190h1v1h-1zM223 190h1v1h-1zM469 190h1v1h-1zM597 248h4v1h-4zM612 248h2v1h-2zM704 248h1v1h-1zM741 248h3v1h-3zM64 132h1v1h-1zM278 132h1v1h-1zM430 132h1v1h-1zM531 238h1v1h-1zM561 238h8v1h-8zM633 260h2v1h-2zM676 260h1v1h-1zM759 260h1v1h-1zM626 255h2v1h-2zM685 255h4v1h-4zM754 255h1v1h-1zM125 199h1v1h-1zM218 199h1v1h-1zM475 199h1v1h-1zM770 276h1v1h-1zM108 175h1v1h-1zM232 175h1v1h-1zM460 175h1v1h-1zM830 333h3v1h-3zM881 333h8v1h-8zM893 333h11v1h-11zM647 268h2v1h-2zM666 268h2v1h-2zM764 268h1v1h-1zM154 225h2v1h-2zM197 225h2v1h-2zM513 225h2v1h-2zM126 201h1v1h-1zM217 201h1v1h-1zM476 201h1v1h-1zM771 277h1v1h-1zM795 305h1v1h-1zM9 125h4v1h-4zM58 125h1v1h-1zM292 125h2v1h-2zM425 125h1v1h-1zM621 252h2v1h-2zM696 252h2v1h-2zM750 252h2v1h-2zM71 140h1v1h-1zM269 140h1v1h-1zM436 140h1v1h-1zM649 269h4v1h-4zM664 269h2v1h-2zM765 269h1v1h-1zM828 332h2v1h-2zM889 332h4v1h-4zM777 284h1v1h-1zM345 88h2v1h-2zM401 88h1v1h-1zM85 150h2v1h-2zM257 150h2v1h-2zM444 150h1v1h-1zM796 306h1v1h-1zM90 155h1v1h-1zM249 155h2v1h-2zM448 155h1v1h-1zM100 164h1v1h-1zM238 164h1v1h-1zM453 164h1v1h-1zM130 206h1v1h-1zM214 206h1v1h-1zM480 206h1v1h-1zM585 243h3v1h-3zM712 243h1v1h-1zM729 243h4v1h-4zM123 195h1v1h-1zM221 195h1v1h-1zM472 195h1v1h-1zM110 178h1v1h-1zM230 178h1v1h-1zM461 178h1v1h-1zM151 223h1v1h-1zM200 223h1v1h-1zM510 223h2v1h-2zM17 123h4v1h-4zM56 123h1v1h-1zM296 123h1v1h-1zM424 123h1v1h-1zM41 115h4v1h-4zM308 115h1v1h-1zM418 115h1v1h-1zM645 267h2v1h-2zM668 267h1v1h-1zM764 267h1v1h-1zM76 144h1v1h-1zM265 144h1v1h-1zM438 144h1v1h-1zM813 323h2v1h-2zM142 218h1v1h-1zM204 218h1v1h-1zM502 218h2v1h-2zM322 108h2v1h-2zM413 108h1v1h-1zM784 291h1v1h-1zM524 233h1v1h-1zM118 189h1v1h-1zM224 189h1v1h-1zM468 189h1v1h-1zM63 131h1v1h-1zM279 131h1v1h-1zM430 131h1v1h-1zM326 105h1v1h-1zM412 105h1v1h-1zM769 275h1v1h-1zM785 292h1v1h-1zM788 297h1v1h-1zM617 250h3v1h-3zM700 250h2v1h-2zM746 250h2v1h-2zM620 251h1v1h-1zM698 251h2v1h-2zM748 251h2v1h-2zM141 217h1v1h-1zM205 217h1v1h-1zM500 217h2v1h-2zM810 321h2v1h-2zM93 158h2v1h-2zM245 158h2v1h-2zM449 158h1v1h-1zM122 194h1v1h-1zM221 194h1v1h-1zM472 194h1v1h-1zM317 110h3v1h-3zM414 110h1v1h-1zM137 213h1v1h-1zM208 213h1v1h-1zM489 213h3v1h-3zM107 174h1v1h-1zM233 174h1v1h-1zM459 174h1v1h-1zM628 256h1v1h-1zM682 256h3v1h-3zM755 256h1v1h-1zM640 264h2v1h-2zM672 264h1v1h-1zM762 264h1v1h-1zM642 265h2v1h-2zM671 265h1v1h-1zM762 265h1v1h-1zM82 148h2v1h-2zM260 148h1v1h-1zM442 148h1v1h-1zM61 129h1v1h-1zM282 129h3v1h-3zM428 129h1v1h-1zM590 245h2v1h-2zM708 245h2v1h-2zM736 245h1v1h-1zM653 270h4v1h-4zM661 270h3v1h-3zM766 270h1v1h-1zM777 283h1v1h-1zM592 246h2v1h-2zM707 246h1v1h-1zM737 246h2v1h-2zM370 81h3v1h-3zM385 81h2v1h-2zM21 122h3v1h-3zM55 122h1v1h-1zM297 122h2v1h-2zM423 122h1v1h-1zM113 182h1v1h-1zM228 182h1v1h-1zM464 182h1v1h-1zM636 262h2v1h-2zM674 262h1v1h-1zM760 262h1v1h-1zM309 114h2v1h-2zM417 114h1v1h-1zM92 157h1v1h-1zM247 157h1v1h-1zM449 157h1v1h-1zM118 188h1v1h-1zM224 188h1v1h-1zM468 188h1v1h-1zM769 274h1v1h-1zM632 259h1v1h-1zM677 259h2v1h-2zM758 259h1v1h-1zM788 296h1v1h-1zM112 180h1v1h-1zM229 180h1v1h-1zM462 180h1v1h-1zM24 121h2v1h-2zM54 121h1v1h-1zM299 121h1v1h-1zM422 121h1v1h-1zM912 340h1v1h-1zM344 89h1v1h-1zM402 89h1v1h-1zM329 102h1v1h-1zM410 102h1v1h-1zM799 310h1v1h-1zM66 135h1v1h-1zM275 135h1v1h-1zM432 135h1v1h-1zM106 173h1v1h-1zM233 173h1v1h-1zM458 173h1v1h-1zM805 317h1v1h-1zM117 187h1v1h-1zM225 187h1v1h-1zM467 187h1v1h-1zM806 318h1v1h-1zM68 137h1v1h-1zM272 137h1v1h-1zM434 137h1v1h-1zM366 83h2v1h-2zM389 83h3v1h-3zM32 119h2v1h-2zM52 119h1v1h-1zM301 119h2v1h-2zM421 119h1v1h-1zM787 295h1v1h-1zM79 146h1v1h-1zM263 146h1v1h-1zM440 146h1v1h-1zM121 193h1v1h-1zM222 193h1v1h-1zM471 193h1v1h-1zM158 227h2v1h-2zM193 227h3v1h-3zM516 227h1v1h-1zM109 176h1v1h-1zM232 176h1v1h-1zM460 176h1v1h-1zM341 92h1v1h-1zM404 92h1v1h-1zM791 301h1v1h-1zM330 101h1v1h-1zM410 101h1v1h-1zM95 159h1v1h-1zM244 159h1v1h-1zM450 159h1v1h-1zM178 232h3v1h-3zM523 232h1v1h-1zM911 339h1v1h-1zM87 151h1v1h-1zM256 151h1v1h-1zM445 151h1v1h-1zM129 205h1v1h-1zM215 205h1v1h-1zM479 205h1v1h-1zM91 156h1v1h-1zM248 156h1v1h-1zM448 156h1v1h-1zM798 309h1v1h-1zM368 82h2v1h-2zM387 82h2v1h-2zM338 95h1v1h-1zM406 95h1v1h-1zM60 127h1v1h-1zM288 127h2v1h-2zM427 127h1v1h-1zM73 142h2v1h-2zM267 142h1v1h-1zM437 142h1v1h-1zM779 286h1v1h-1zM125 198h1v1h-1zM219 198h1v1h-1zM474 198h1v1h-1zM780 287h1v1h-1zM918 346h1v1h-1zM99 163h1v1h-1zM239 163h1v1h-1zM452 163h1v1h-1zM102 168h1v1h-1zM236 168h1v1h-1zM455 168h1v1h-1zM824 329h1v1h-1zM919 347h1v1h-1zM827 331h1v1h-1zM59 126h1v1h-1zM290 126h2v1h-2zM426 126h1v1h-1zM129 204h1v1h-1zM216 204h1v1h-1zM478 204h1v1h-1zM638 263h2v1h-2zM673 263h1v1h-1zM761 263h1v1h-1zM325 106h1v1h-1zM412 106h1v1h-1zM114 183h1v1h-1zM227 183h1v1h-1zM464 183h1v1h-1zM143 219h2v1h-2zM204 219h1v1h-1zM504 219h1v1h-1zM772 278h1v1h-1zM324 107h1v1h-1zM413 107h1v1h-1zM128 203h1v1h-1zM216 203h1v1h-1zM478 203h1v1h-1zM312 112h2v1h-2zM416 112h1v1h-1zM373 80h4v1h-4zM384 80h1v1h-1zM320 109h2v1h-2zM414 109h1v1h-1zM336 97h1v1h-1zM408 97h1v1h-1zM816 325h1v1h-1zM103 169h1v1h-1zM235 169h1v1h-1zM456 169h1v1h-1zM120 191h1v1h-1zM223 191h1v1h-1zM470 191h1v1h-1zM124 196h1v1h-1zM220 196h1v1h-1zM473 196h1v1h-1zM525 234h2v1h-2zM790 299h1v1h-1zM88 152h1v1h-1zM254 152h2v1h-2zM445 152h1v1h-1zM148 221h1v1h-1zM202 221h1v1h-1zM507 221h1v1h-1zM797 307h1v1h-1zM138 214h1v1h-1zM207 214h1v1h-1zM492 214h2v1h-2zM801 313h1v1h-1zM812 322h1v1h-1zM69 138h1v1h-1zM271 138h1v1h-1zM434 138h1v1h-1zM133 209h1v1h-1zM211 209h1v1h-1zM482 209h1v1h-1zM332 99h2v1h-2zM409 99h1v1h-1zM807 319h1v1h-1zM921 350h1v1h-1zM102 167h1v1h-1zM236 167h1v1h-1zM454 167h1v1h-1zM789 298h1v1h-1zM104 170h1v1h-1zM235 170h1v1h-1zM456 170h1v1h-1zM808 320h2v1h-2zM327 104h1v1h-1zM411 104h1v1h-1zM132 208h1v1h-1zM212 208h1v1h-1zM481 208h1v1h-1zM113 181h1v1h-1zM228 181h1v1h-1zM463 181h1v1h-1zM334 98h2v1h-2zM408 98h1v1h-1zM131 207h1v1h-1zM213 207h1v1h-1zM481 207h1v1h-1zM800 311h1v1h-1zM342 91h1v1h-1zM404 91h1v1h-1zM343 90h1v1h-1zM403 90h1v1h-1zM782 289h1v1h-1zM635 261h1v1h-1zM675 261h1v1h-1zM760 261h1v1h-1zM116 186h1v1h-1zM225 186h1v1h-1zM466 186h1v1h-1zM913 341h1v1h-1zM774 280h1v1h-1zM337 96h1v1h-1zM407 96h1v1h-1zM920 348h1v1h-1zM781 288h1v1h-1zM84 149h1v1h-1zM259 149h1v1h-1zM443 149h1v1h-1zM77 145h2v1h-2zM264 145h1v1h-1zM439 145h1v1h-1zM792 302h1v1h-1zM152 224h2v1h-2zM199 224h1v1h-1zM512 224h1v1h-1zM803 315h1v1h-1zM96 160h1v1h-1zM243 160h1v1h-1zM450 160h1v1h-1zM773 279h1v1h-1zM331 100h1v1h-1zM409 100h1v1h-1zM311 113h1v1h-1zM417 113h1v1h-1zM802 314h1v1h-1zM923 352h1v1h-1zM527 235h1v1h-1zM340 93h1v1h-1zM405 93h1v1h-1zM922 351h1v1h-1zM783 290h1v1h-1zM914 342h1v1h-1zM801 312h1v1h-1zM915 343h1v1h-1zM776 282h1v1h-1zM75 143h1v1h-1zM266 143h1v1h-1zM438 143h1v1h-1zM921 349h1v1h-1zM793 303h1v1h-1zM794 304h1v1h-1zM775 281h1v1h-1zM767 272h1v1h-1zM786 294h1v1h-1zM768 273h1v1h-1zM804 316h1v1h-1z"/><g clip-path="url(#cmain)" shape-rendering="crispEdges"><rect x="3" y="120" width="1" height="28" fill="#ff0000" /><rect x="2" y="122" width="3" height="21" fill="#ff0000" /><rect x="3" y="123" width="1" height="19" fill="#ff4a00" /><rect x="7" y="100" width="1" height="26" fill="#ff0000" /><rect x="6" y="112" width="3" height="12" fill="#ff0000" /><rect x="7" y="113" width="1" height="10" fill="#ff4a00" /><rect x="11" y="106" width="1" height="6" fill="#ff0000" /><rect x="10" y="108" width="3" height="2" fill="#ff0000" /><rect x="15" y="87" width="1" height="37" fill="#ff0000" /><rect x="14" y="94" width="3" height="14" fill="#ff0000" /><rect x="15" y="95" width="1" height="12" fill="#ff4a00" /><rect x="19" y="85" width="1" height="16" fill="#2ec82e" /><rect x="18" y="94" width="3" height="2" fill="#2ec82e" /><rect x="23" y="83" width="1" height="33" fill="#ff0000" /><rect x="22" y="90" width="3" height="6" fill="#ff0000" /><rect x="23" y="91" width="1" height="4" fill="#ff4a00" /><rect x="27" y="58" width="1" height="42" fill="#ff0000" /><rect x="26" y="86" width="3" height="4" fill="#ff0000" /><rect x="27" y="87" width="1" height="2" fill="#ff4a00" /><rect x="31" y="84" width="1" height="47" fill="#2ec82e" /><rect x="30" y="86" width="3" height="44" fill="#2ec82e" /><rect x="35" y="122" width="1" height="9" fill="#ff0000" /><rect x="34" y="123" width="3" height="7" fill="#ff0000" /><rect x="35" y="124" width="1" height="5" fill="#ff4a00" /><rect x="39" y="118" width="1" height="33" fill="#2ec82e" /><rect x="38" y="123" width="3" height="19" fill="#2ec82e" /><rect x="43" y="121" width="1" height="45" fill="#ff0000" /><rect x="42" y="125" width="3" height="17" fill="#ff0000" /><rect x="43" y="126" width="1" height="15" fill="#ff4a00" /><rect x="47" y="113" width="1" height="32" fill="#2ec82e" /><rect x="46" y="126" width="3" height="16" fill="#2ec82e" /><rect x="51" y="135" width="1" height="45" fill="#2ec82e" /><rect x="50" y="141" width="3" height="35" fill="#2ec82e" /><rect x="55" y="175" width="1" height="34" fill="#2ec82e" /><rect x="54" y="176" width="3" height="25" fill="#2ec82e" /><rect x="59" y="192" width="1" height="7" fill="#ff0000" /><rect x="58" y="194" width="3" height="4" fill="#ff0000" /><rect x="59" y="195" width="1" height="2" fill="#ff4a00" /><rect x="63" y="192" width="1" height="38" fill="#2ec82e" /><rect x="62" y="194" width="3" height="33" fill="#2ec82e" /><rect x="67" y="198" width="1" height="36" fill="#ff0000" /><rect x="66" y="206" width="3" height="20" fill="#ff0000" /><rect x="67" y="207" width="1" height="18" fill="#ff4a00" /><rect x="71" y="192" width="1" height="27" fill="#ff0000" /><rect x="70" y="194" width="3" height="13" fill="#ff0000" /><rect x="71" y="195" width="1" height="11" fill="#ff4a00" /><rect x="75" y="166" width="1" height="32" fill="#ff0000" /><rect x="74" y="170" width="3" height="24" fill="#ff0000" /><rect x="75" y="171" width="1" height="22" fill="#ff4a00" /><rect x="79" y="167" width="1" height="34" fill="#2ec82e" /><rect x="78" y="170" width="3" height="15" fill="#2ec82e" /><rect x="83" y="182" width="1" height="4" fill="#ff0000" /><rect x="82" y="183" width="3" height="2" fill="#ff0000" /><rect x="87" y="176" width="1" height="25" fill="#2ec82e" /><rect x="86" y="183" width="3" height="10" fill="#2ec82e" /><rect x="91" y="184" width="1" height="29" fill="#2ec82e" /><rect x="90" y="193" width="3" height="11" fill="#2ec82e" /><rect x="95" y="168" width="1" height="43" fill="#ff0000" /><rect x="94" y="169" width="3" height="35" fill="#ff0000" /><rect x="95" y="170" width="1" height="33" fill="#ff4a00" /><rect x="99" y="167" width="1" height="36" fill="#2ec82e" /><rect x="98" y="170" width="3" height="28" fill="#2ec82e" /><rect x="103" y="190" width="1" height="27" fill="#2ec82e" /><rect x="102" y="196" width="3" height="5" fill="#2ec82e" /><rect x="107" y="209" width="1" height="5" fill="#2ec82e" /><rect x="106" y="211" width="3" height="1" fill="#2ec82e" /><rect x="111" y="185" width="1" height="32" fill="#ff0000" /><rect x="110" y="191" width="3" height="22" fill="#ff0000" /><rect x="111" y="192" width="1" height="20" fill="#ff4a00" /><rect x="115" y="187" width="1" height="45" fill="#2ec82e" /><rect x="114" y="191" width="3" height="41" fill="#2ec82e" /><rect x="119" y="226" width="1" height="19" fill="#2ec82e" /><rect x="118" y="230" width="3" height="12" fill="#2ec82e" /><rect x="123" y="236" width="1" height="28" fill="#2ec82e" /><rect x="122" y="242" width="3" height="17" fill="#2ec82e" /><rect x="127" y="246" width="1" height="15" fill="#ff0000" /><rect x="126" y="252" width="3" height="7" fill="#ff0000" /><rect x="127" y="253" width="1" height="5" fill="#ff4a00" /><rect x="131" y="252" width="1" height="2" fill="#2ec82e" /><rect x="130" y="252" width="3" height="2" fill="#2ec82e" /><rect x="135" y="250" width="1" height="15" fill="#2ec82e" /><rect x="134" y="253" width="3" height="8" fill="#2ec82e" /><rect x="139" y="259" width="1" height="27" fill="#2ec82e" /><rect x="138" y="261" width="3" height="21" fill="#2ec82e" /><rect x="143" y="265" width="1" height="25" fill="#ff0000" /><rect x="142" y="280" width="3" height="2" fill="#ff0000" /><rect x="147" y="256" width="1" height="29" fill="#ff0000" /><rect x="146" y="258" width="3" height="22" fill="#ff0000" /><rect x="147" y="259" width="1" height="20" fill="#ff4a00" /><rect x="151" y="262" width="1" height="5" fill="#ff0000" /><rect x="150" y="262" width="3" height="3" fill="#ff0000" /><rect x="151" y="263" width="1" height="1" fill="#ff4a00" /><rect x="155" y="239" width="1" height="35" fill="#ff0000" /><rect x="154" y="240" width="3" height="23" fill="#ff0000" /><rect x="155" y="241" width="1" height="21" fill="#ff4a00" /><rect x="159" y="214" width="1" height="37" fill="#ff0000" /><rect x="158" y="216" width="3" height="26" fill="#ff0000" /><rect x="159" y="217" width="1" height="24" fill="#ff4a00" /><rect x="163" y="198" width="1" height="25" fill="#2ec82e" /><rect x="162" y="216" width="3" height="2" fill="#2ec82e" /><rect x="167" y="193" width="1" height="30" fill="#ff0000" /><rect x="166" y="198" width="3" height="19" fill="#ff0000" /><rect x="167" y="199" width="1" height="17" fill="#ff4a00" /><rect x="171" y="196" width="1" height="24" fill="#2ec82e" /><rect x="170" y="198" width="3" height="8" fill="#2ec82e" /><rect x="175" y="204" width="1" height="4" fill="#2ec82e" /><rect x="174" y="204" width="3" height="3" fill="#2ec82e" /><rect x="179" y="197" width="1" height="20" fill="#ff0000" /><rect x="178" y="200" width="3" height="6" fill="#ff0000" /><rect x="179" y="201" width="1" height="4" fill="#ff4a00" /><rect x="183" y="182" width="1" height="33" fill="#ff0000" /><rect x="182" y="182" width="3" height="18" fill="#ff0000" /><rect x="183" y="183" width="1" height="16" fill="#ff4a00" /><rect x="187" y="167" width="1" height="17" fill="#ff0000" /><rect x="186" y="169" width="3" height="13" fill="#ff0000" /><rect x="187" y="170" width="1" height="11" fill="#ff4a00" /><rect x="191" y="165" width="1" height="17" fill="#2ec82e" /><rect x="190" y="170" width="3" height="5" fill="#2ec82e" /><rect x="195" y="164" width="1" height="20" fill="#ff0000" /><rect x="194" y="172" width="3" height="3" fill="#ff0000" /><rect x="195" y="173" width="1" height="1" fill="#ff4a00" /><rect x="199" y="174" width="1" height="2" fill="#2ec82e" /><rect x="198" y="174" width="3" height="2" fill="#2ec82e" /><rect x="203" y="141" width="1" height="47" fill="#ff0000" /><rect x="202" y="144" width="3" height="31" fill="#ff0000" /><rect x="203" y="145" width="1" height="29" fill="#ff4a00" /><rect x="207" y="128" width="1" height="25" fill="#2ec82e" /><rect x="206" y="144" width="3" height="4" fill="#2ec82e" /><rect x="211" y="144" width="1" height="18" fill="#ff0000" /><rect x="210" y="147" width="3" height="2" fill="#ff0000" /><rect x="215" y="132" width="1" height="34" fill="#2ec82e" /><rect x="214" y="146" width="3" height="10" fill="#2ec82e" /><rect x="219" y="122" width="1" height="35" fill="#ff0000" /><rect x="218" y="122" width="3" height="34" fill="#ff0000" /><rect x="219" y="123" width="1" height="32" fill="#ff4a00" /><rect x="223" y="121" width="1" height="3" fill="#2ec82e" /><rect x="222" y="122" width="3" height="2" fill="#2ec82e" /><rect x="227" y="112" width="1" height="25" fill="#2ec82e" /><rect x="226" y="123" width="3" height="6" fill="#2ec82e" /><rect x="231" y="122" width="1" height="17" fill="#ff0000" /><rect x="230" y="123" width="3" height="6" fill="#ff0000" /><rect x="231" y="124" width="1" height="4" fill="#ff4a00" /><rect x="235" y="104" width="1" height="35" fill="#ff0000" /><rect x="234" y="104" width="3" height="20" fill="#ff0000" /><rect x="235" y="105" width="1" height="18" fill="#ff4a00" /><rect x="239" y="97" width="1" height="22" fill="#2ec82e" /><rect x="238" y="104" width="3" height="5" fill="#2ec82e" /><rect x="243" y="107" width="1" height="48" fill="#2ec82e" /><rect x="242" y="107" width="3" height="47" fill="#2ec82e" /><rect x="247" y="150" width="1" height="2" fill="#ff0000" /><rect x="246" y="150" width="3" height="2" fill="#ff0000" /><rect x="251" y="129" width="1" height="27" fill="#ff0000" /><rect x="250" y="136" width="3" height="19" fill="#ff0000" /><rect x="251" y="137" width="1" height="17" fill="#ff4a00" /><rect x="255" y="134" width="1" height="28" fill="#2ec82e" /><rect x="254" y="135" width="3" height="21" fill="#2ec82e" /><rect x="259" y="150" width="1" height="19" fill="#2ec82e" /><rect x="258" y="156" width="3" height="4" fill="#2ec82e" /><rect x="263" y="131" width="1" height="35" fill="#ff0000" /><rect x="262" y="134" width="3" height="26" fill="#ff0000" /><rect x="263" y="135" width="1" height="24" fill="#ff4a00" /><rect x="267" y="91" width="1" height="49" fill="#ff0000" /><rect x="266" y="91" width="3" height="43" fill="#ff0000" /><rect x="267" y="92" width="1" height="41" fill="#ff4a00" /><rect x="271" y="86" width="1" height="5" fill="#ff0000" /><rect x="270" y="88" width="3" height="3" fill="#ff0000" /><rect x="271" y="89" width="1" height="1" fill="#ff4a00" /><rect x="275" y="85" width="1" height="22" fill="#2ec82e" /><rect x="274" y="89" width="3" height="14" fill="#2ec82e" /><rect x="279" y="84" width="1" height="26" fill="#ff0000" /><rect x="278" y="100" width="3" height="1" fill="#ff0000" /><rect x="283" y="96" width="1" height="38" fill="#2ec82e" /><rect x="282" y="100" width="3" height="28" fill="#2ec82e" /><rect x="287" y="116" width="1" height="24" fill="#2ec82e" /><rect x="286" y="126" width="3" height="3" fill="#2ec82e" /><rect x="291" y="98" width="1" height="33" fill="#ff0000" /><rect x="290" y="100" width="3" height="29" fill="#ff0000" /><rect x="291" y="101" width="1" height="27" fill="#ff4a00" /><rect x="295" y="97" width="1" height="3" fill="#ff0000" /><rect x="294" y="97" width="3" height="3" fill="#ff0000" /><rect x="295" y="98" width="1" height="1" fill="#ff4a00" /><rect x="299" y="89" width="1" height="20" fill="#ff0000" /><rect x="298" y="95" width="3" height="4" fill="#ff0000" /><rect x="299" y="96" width="1" height="2" fill="#ff4a00" /><rect x="303" y="61" width="1" height="36" fill="#ff0000" /><rect x="302" y="66" width="3" height="30" fill="#ff0000" /><rect x="303" y="67" width="1" height="28" fill="#ff4a00" /><rect x="307" y="56" width="1" height="38" fill="#2ec82e" /><rect x="306" y="66" width="3" height="22" fill="#2ec82e" /><rect x="311" y="63" width="1" height="27" fill="#ff0000" /><rect x="310" y="64" width="3" height="25" fill="#ff0000" /><rect x="311" y="65" width="1" height="23" fill="#ff4a00" /><rect x="315" y="59" width="1" height="35" fill="#2ec82e" /><rect x="314" y="65" width="3" height="20" fill="#2ec82e" /><rect x="319" y="83" width="1" height="2" fill="#ff0000" /><rect x="318" y="83" width="3" height="2" fill="#ff0000" /><rect x="323" y="63" width="1" height="25" fill="#ff0000" /><rect x="322" y="70" width="3" height="15" fill="#ff0000" /><rect x="323" y="71" width="1" height="13" fill="#ff4a00" /><rect x="327" y="48" width="1" height="24" fill="#ff0000" /><rect x="326" y="56" width="3" height="15" fill="#ff0000" /><rect x="327" y="57" width="1" height="13" fill="#ff4a00" /><rect x="331" y="49" width="1" height="36" fill="#2ec82e" /><rect x="330" y="56" width="3" height="24" fill="#2ec82e" /><rect x="335" y="70" width="1" height="16" fill="#ff0000" /><rect x="334" y="79" width="3" height="1" fill="#ff0000" /><rect x="339" y="74" width="1" height="32" fill="#ff0000" /><rect x="338" y="78" width="3" height="2" fill="#ff0000" /><rect x="343" y="79" width="1" height="3" fill="#2ec82e" /><rect x="342" y="79" width="3" height="3" fill="#2ec82e" /><rect x="347" y="61" width="1" height="23" fill="#ff0000" /><rect x="346" y="62" width="3" height="18" fill="#ff0000" /><rect x="347" y="63" width="1" height="16" fill="#ff4a00" /><rect x="351" y="53" width="1" height="19" fill="#2ec82e" /><rect x="350" y="62" width="3" height="7" fill="#2ec82e" /><rect x="355" y="64" width="1" height="28" fill="#2ec82e" /><rect x="354" y="68" width="3" height="5" fill="#2ec82e" /><rect x="359" y="70" width="1" height="42" fill="#2ec82e" /><rect x="358" y="72" width="3" height="35" fill="#2ec82e" /><rect x="363" y="82" width="1" height="36" fill="#ff0000" /><rect x="362" y="91" width="3" height="16" fill="#ff0000" /><rect x="363" y="92" width="1" height="14" fill="#ff4a00" /><rect x="367" y="90" width="1" height="3" fill="#ff0000" /><rect x="366" y="90" width="3" height="3" fill="#ff0000" /><rect x="367" y="91" width="1" height="1" fill="#ff4a00" /><rect x="371" y="75" width="1" height="26" fill="#ff0000" /><rect x="370" y="79" width="3" height="12" fill="#ff0000" /><rect x="371" y="80" width="1" height="10" fill="#ff4a00" /><rect x="375" y="79" width="1" height="13" fill="#2ec82e" /><rect x="374" y="79" width="3" height="9" fill="#2ec82e" /><rect x="379" y="68" width="1" height="20" fill="#ff0000" /><rect x="378" y="85" width="3" height="3" fill="#ff0000" /><rect x="379" y="86" width="1" height="1" fill="#ff4a00" /><rect x="383" y="79" width="1" height="22" fill="#2ec82e" /><rect x="382" y="85" width="3" height="4" fill="#2ec82e" /><rect x="387" y="79" width="1" height="44" fill="#2ec82e" /><rect x="386" y="87" width="3" height="32" fill="#2ec82e" /><rect x="391" y="114" width="1" height="3" fill="#000" /><rect x="390" y="116" width="3" height="1" fill="#000" /><rect x="395" y="106" width="1" height="16" fill="#ff0000" /><rect x="394" y="110" width="3" height="6" fill="#ff0000" /><rect x="395" y="111" width="1" height="4" fill="#ff4a00" /><rect x="399" y="99" width="1" height="20" fill="#ff0000" /><rect x="398" y="108" width="3" height="2" fill="#ff0000" /><rect x="403" y="104" width="1" height="64" fill="#2ec82e" /><rect x="402" y="108" width="3" height="57" fill="#2ec82e" /><rect x="407" y="159" width="1" height="49" fill="#2ec82e" /><rect x="406" y="164" width="3" height="36" fill="#2ec82e" /><rect x="411" y="194" width="1" height="34" fill="#2ec82e" /><rect x="410" y="199" width="3" height="19" fill="#2ec82e" /><rect x="415" y="216" width="1" height="3" fill="#2ec82e" /><rect x="414" y="216" width="3" height="3" fill="#2ec82e" /><rect x="419" y="196" width="1" height="32" fill="#ff0000" /><rect x="418" y="200" width="3" height="19" fill="#ff0000" /><rect x="419" y="201" width="1" height="17" fill="#ff4a00" /><rect x="423" y="182" width="1" height="31" fill="#ff0000" /><rect x="422" y="189" width="3" height="11" fill="#ff0000" /><rect x="423" y="190" width="1" height="9" fill="#ff4a00" /><rect x="427" y="175" width="1" height="26" fill="#2ec82e" /><rect x="426" y="189" width="3" height="4" fill="#2ec82e" /><rect x="431" y="181" width="1" height="17" fill="#2ec82e" /><rect x="430" y="191" width="3" height="3" fill="#2ec82e" /><rect x="435" y="173" width="1" height="21" fill="#ff0000" /><rect x="434" y="191" width="3" height="3" fill="#ff0000" /><rect x="435" y="192" width="1" height="1" fill="#ff4a00" /><rect x="439" y="187" width="1" height="3" fill="#ff0000" /><rect x="438" y="187" width="3" height="2" fill="#ff0000" /><rect x="443" y="186" width="1" height="18" fill="#2ec82e" /><rect x="442" y="187" width="3" height="6" fill="#2ec82e" /><rect x="447" y="191" width="1" height="24" fill="#2ec82e" /><rect x="446" y="192" width="3" height="14" fill="#2ec82e" /><rect x="451" y="201" width="1" height="28" fill="#2ec82e" /><rect x="450" y="205" width="3" height="20" fill="#2ec82e" /><rect x="455" y="212" width="1" height="20" fill="#2ec82e" /><rect x="454" y="224" width="3" height="5" fill="#2ec82e" /><rect x="459" y="216" width="1" height="28" fill="#ff0000" /><rect x="458" y="218" width="3" height="11" fill="#ff0000" /><rect x="459" y="219" width="1" height="9" fill="#ff4a00" /><rect x="463" y="222" width="1" height="3" fill="#2ec82e" /><rect x="462" y="222" width="3" height="3" fill="#2ec82e" /><rect x="467" y="213" width="1" height="13" fill="#ff0000" /><rect x="466" y="221" width="3" height="4" fill="#ff0000" /><rect x="467" y="222" width="1" height="2" fill="#ff4a00" /><rect x="471" y="207" width="1" height="38" fill="#2ec82e" /><rect x="470" y="221" width="3" height="17" fill="#2ec82e" /><rect x="475" y="232" width="1" height="25" fill="#2ec82e" /><rect x="474" y="239" width="3" height="13" fill="#2ec82e" /><rect x="479" y="220" width="1" height="35" fill="#ff0000" /><rect x="478" y="229" width="3" height="22" fill="#ff0000" /><rect x="479" y="230" width="1" height="20" fill="#ff4a00" /><rect x="483" y="214" width="1" height="24" fill="#ff0000" /><rect x="482" y="215" width="3" height="14" fill="#ff0000" /><rect x="483" y="216" width="1" height="12" fill="#ff4a00" /><rect x="487" y="216" width="1" height="2" fill="#2ec82e" /><rect x="486" y="216" width="3" height="2" fill="#2ec82e" /><rect x="491" y="213" width="1" height="19" fill="#2ec82e" /><rect x="490" y="216" width="3" height="6" fill="#2ec82e" /><rect x="495" y="216" width="1" height="44" fill="#2ec82e" /><rect x="494" y="220" width="3" height="40" fill="#2ec82e" /><rect x="499" y="232" width="1" height="28" fill="#ff0000" /><rect x="498" y="234" width="3" height="26" fill="#ff0000" /><rect x="499" y="235" width="1" height="24" fill="#ff4a00" /><rect x="503" y="226" width="1" height="24" fill="#2ec82e" /><rect x="502" y="234" width="3" height="10" fill="#2ec82e" /><rect x="507" y="238" width="1" height="13" fill="#2ec82e" /><rect x="506" y="243" width="3" height="1" fill="#2ec82e" /><rect x="511" y="242" width="1" height="2" fill="#ff0000" /><rect x="510" y="242" width="3" height="2" fill="#ff0000" /><rect x="515" y="238" width="1" height="26" fill="#2ec82e" /><rect x="514" y="242" width="3" height="9" fill="#2ec82e" /><rect x="519" y="247" width="1" height="20" fill="#2ec82e" /><rect x="518" y="251" width="3" height="6" fill="#2ec82e" /><rect x="523" y="246" width="1" height="23" fill="#ff0000" /><rect x="522" y="251" width="3" height="4" fill="#ff0000" /><rect x="523" y="252" width="1" height="2" fill="#ff4a00" /><rect x="527" y="235" width="1" height="31" fill="#2ec82e" /><rect x="526" y="251" width="3" height="9" fill="#2ec82e" /><rect x="531" y="254" width="1" height="13" fill="#2ec82e" /><rect x="530" y="260" width="3" height="1" fill="#2ec82e" /><rect x="535" y="259" width="1" height="1" fill="#2ec82e" /><rect x="534" y="259" width="3" height="1" fill="#2ec82e" /><rect x="539" y="240" width="1" height="24" fill="#ff0000" /><rect x="538" y="245" width="3" height="15" fill="#ff0000" /><rect x="539" y="246" width="1" height="13" fill="#ff4a00" /><rect x="543" y="230" width="1" height="31" fill="#ff0000" /><rect x="542" y="239" width="3" height="8" fill="#ff0000" /><rect x="543" y="240" width="1" height="6" fill="#ff4a00" /><rect x="547" y="226" width="1" height="34" fill="#ff0000" /><rect x="546" y="228" width="3" height="12" fill="#ff0000" /><rect x="547" y="229" width="1" height="10" fill="#ff4a00" /><rect x="551" y="207" width="1" height="23" fill="#ff0000" /><rect x="550" y="209" width="3" height="20" fill="#ff0000" /><rect x="551" y="210" width="1" height="18" fill="#ff4a00" /><rect x="555" y="201" width="1" height="25" fill="#2ec82e" /><rect x="554" y="209" width="3" height="17" fill="#2ec82e" /><rect x="559" y="218" width="1" height="3" fill="#2ec82e" /><rect x="558" y="219" width="3" height="1" fill="#2ec82e" /><rect x="563" y="206" width="1" height="16" fill="#ff0000" /><rect x="562" y="216" width="3" height="4" fill="#ff0000" /><rect x="563" y="217" width="1" height="2" fill="#ff4a00" /><rect x="567" y="208" width="1" height="18" fill="#2ec82e" /><rect x="566" y="216" width="3" height="2" fill="#2ec82e" /><rect x="571" y="205" width="1" height="29" fill="#2ec82e" /><rect x="570" y="218" width="3" height="15" fill="#2ec82e" /><rect x="575" y="223" width="1" height="12" fill="#2ec82e" /><rect x="574" y="231" width="3" height="2" fill="#2ec82e" /><rect x="579" y="233" width="1" height="35" fill="#2ec82e" /><rect x="578" y="233" width="3" height="34" fill="#2ec82e" /><rect x="583" y="267" width="1" height="5" fill="#2ec82e" /><rect x="582" y="267" width="3" height="4" fill="#2ec82e" /><rect x="587" y="261" width="1" height="16" fill="#2ec82e" /><rect x="586" y="270" width="3" height="6" fill="#2ec82e" /><rect x="591" y="272" width="1" height="15" fill="#2ec82e" /><rect x="590" y="275" width="3" height="8" fill="#2ec82e" /><rect x="595" y="268" width="1" height="22" fill="#ff0000" /><rect x="594" y="273" width="3" height="10" fill="#ff0000" /><rect x="595" y="274" width="1" height="8" fill="#ff4a00" /><rect x="599" y="270" width="1" height="12" fill="#2ec82e" /><rect x="598" y="273" width="3" height="4" fill="#2ec82e" /><rect x="603" y="247" width="1" height="31" fill="#ff0000" /><rect x="602" y="250" width="3" height="25" fill="#ff0000" /><rect x="603" y="251" width="1" height="23" fill="#ff4a00" /><rect x="607" y="250" width="1" height="1" fill="#ff0000" /><rect x="606" y="250" width="3" height="1" fill="#ff0000" /><rect x="611" y="247" width="1" height="15" fill="#2ec82e" /><rect x="610" y="250" width="3" height="7" fill="#2ec82e" /><rect x="615" y="254" width="1" height="37" fill="#2ec82e" /><rect x="614" y="256" width="3" height="32" fill="#2ec82e" /><rect x="619" y="273" width="1" height="20" fill="#2ec82e" /><rect x="618" y="287" width="3" height="3" fill="#2ec82e" /><rect x="623" y="289" width="1" height="17" fill="#2ec82e" /><rect x="622" y="290" width="3" height="12" fill="#2ec82e" /><rect x="627" y="291" width="1" height="15" fill="#ff0000" /><rect x="626" y="292" width="3" height="10" fill="#ff0000" /><rect x="627" y="293" width="1" height="8" fill="#ff4a00" /><rect x="631" y="293" width="1" height="1" fill="#ff0000" /><rect x="630" y="293" width="3" height="1" fill="#ff0000" /><rect x="635" y="269" width="1" height="25" fill="#ff0000" /><rect x="634" y="272" width="3" height="21" fill="#ff0000" /><rect x="635" y="273" width="1" height="19" fill="#ff4a00" /><rect x="639" y="264" width="1" height="16" fill="#ff0000" /><rect x="638" y="269" width="3" height="4" fill="#ff0000" /><rect x="639" y="270" width="1" height="2" fill="#ff4a00" /><rect x="643" y="260" width="1" height="20" fill="#ff0000" /><rect x="642" y="260" width="3" height="9" fill="#ff0000" /><rect x="643" y="261" width="1" height="7" fill="#ff4a00" /><rect x="647" y="257" width="1" height="14" fill="#2ec82e" /><rect x="646" y="262" width="3" height="6" fill="#2ec82e" /><rect x="651" y="247" width="1" height="30" fill="#ff0000" /><rect x="650" y="250" width="3" height="19" fill="#ff0000" /><rect x="651" y="251" width="1" height="17" fill="#ff4a00" /><rect x="655" y="248" width="1" height="2" fill="#2ec82e" /><rect x="654" y="248" width="3" height="2" fill="#2ec82e" /><rect x="659" y="244" width="1" height="12" fill="#2ec82e" /><rect x="658" y="248" width="3" height="2" fill="#2ec82e" /><rect x="663" y="228" width="1" height="22" fill="#ff0000" /><rect x="662" y="244" width="3" height="6" fill="#ff0000" /><rect x="663" y="245" width="1" height="4" fill="#ff4a00" /><rect x="667" y="223" width="1" height="29" fill="#ff0000" /><rect x="666" y="231" width="3" height="13" fill="#ff0000" /><rect x="667" y="232" width="1" height="11" fill="#ff4a00" /><rect x="671" y="215" width="1" height="19" fill="#ff0000" /><rect x="670" y="216" width="3" height="15" fill="#ff0000" /><rect x="671" y="217" width="1" height="13" fill="#ff4a00" /><rect x="675" y="201" width="1" height="18" fill="#ff0000" /><rect x="674" y="209" width="3" height="7" fill="#ff0000" /><rect x="675" y="210" width="1" height="5" fill="#ff4a00" /><rect x="679" y="212" width="1" height="3" fill="#ff0000" /><rect x="678" y="212" width="3" height="3" fill="#ff0000" /><rect x="679" y="213" width="1" height="1" fill="#ff4a00" /><rect x="683" y="211" width="1" height="14" fill="#2ec82e" /><rect x="682" y="212" width="3" height="4" fill="#2ec82e" /><rect x="687" y="211" width="1" height="22" fill="#2ec82e" /><rect x="686" y="216" width="3" height="13" fill="#2ec82e" /><rect x="691" y="226" width="1" height="22" fill="#2ec82e" /><rect x="690" y="229" width="3" height="11" fill="#2ec82e" /><rect x="695" y="230" width="1" height="16" fill="#ff0000" /><rect x="694" y="238" width="3" height="2" fill="#ff0000" /><rect x="699" y="226" width="1" height="18" fill="#2ec82e" /><rect x="698" y="238" width="3" height="4" fill="#2ec82e" /><rect x="703" y="243" width="1" height="1" fill="#2ec82e" /><rect x="702" y="243" width="3" height="1" fill="#2ec82e" /><rect x="707" y="240" width="1" height="22" fill="#2ec82e" /><rect x="706" y="244" width="3" height="1" fill="#2ec82e" /><rect x="711" y="228" width="1" height="20" fill="#2ec82e" /><rect x="710" y="244" width="3" height="3" fill="#2ec82e" /><rect x="715" y="234" width="1" height="14" fill="#ff0000" /><rect x="714" y="240" width="3" height="7" fill="#ff0000" /><rect x="715" y="241" width="1" height="5" fill="#ff4a00" /><rect x="719" y="239" width="1" height="31" fill="#2ec82e" /><rect x="718" y="240" width="3" height="24" fill="#2ec82e" /><rect x="723" y="253" width="1" height="27" fill="#2ec82e" /><rect x="722" y="263" width="3" height="16" fill="#2ec82e" /><rect x="727" y="278" width="1" height="2" fill="#ff0000" /><rect x="726" y="278" width="3" height="1" fill="#ff0000" /><rect x="731" y="275" width="1" height="17" fill="#2ec82e" /><rect x="730" y="278" width="3" height="2" fill="#2ec82e" /><rect x="735" y="270" width="1" height="15" fill="#2ec82e" /><rect x="734" y="279" width="3" height="2" fill="#2ec82e" /><rect x="739" y="267" width="1" height="31" fill="#2ec82e" /><rect x="738" y="281" width="3" height="16" fill="#2ec82e" /><rect x="743" y="269" width="1" height="30" fill="#ff0000" /><rect x="742" y="274" width="3" height="23" fill="#ff0000" /><rect x="743" y="275" width="1" height="21" fill="#ff4a00" /><rect x="747" y="270" width="1" height="20" fill="#2ec82e" /><rect x="746" y="274" width="3" height="10" fill="#2ec82e" /><rect x="751" y="280" width="1" height="4" fill="#ff0000" /><rect x="750" y="281" width="3" height="2" fill="#ff0000" /><rect x="755" y="280" width="1" height="18" fill="#2ec82e" /><rect x="754" y="281" width="3" height="12" fill="#2ec82e" /><rect x="759" y="290" width="1" height="15" fill="#2ec82e" /><rect x="758" y="293" width="3" height="4" fill="#2ec82e" /><rect x="763" y="294" width="1" height="45" fill="#2ec82e" /><rect x="762" y="296" width="3" height="38" fill="#2ec82e" /><rect x="767" y="330" width="1" height="20" fill="#2ec82e" /><rect x="766" y="333" width="3" height="13" fill="#2ec82e" /><rect x="771" y="330" width="1" height="20" fill="#ff0000" /><rect x="770" y="335" width="3" height="11" fill="#ff0000" /><rect x="771" y="336" width="1" height="9" fill="#ff4a00" /><rect x="775" y="329" width="1" height="2" fill="#2ec82e" /><rect x="774" y="329" width="3" height="2" fill="#2ec82e" /><rect x="779" y="317" width="1" height="23" fill="#ff0000" /><rect x="778" y="328" width="3" height="3" fill="#ff0000" /><rect x="779" y="329" width="1" height="1" fill="#ff4a00" /><rect x="783" y="325" width="1" height="18" fill="#2ec82e" /><rect x="782" y="328" width="3" height="9" fill="#2ec82e" /><rect x="787" y="335" width="1" height="30" fill="#2ec82e" /><rect x="786" y="336" width="3" height="18" fill="#2ec82e" /><rect x="791" y="346" width="1" height="10" fill="#ff0000" /><rect x="790" y="351" width="3" height="2" fill="#ff0000" /><rect x="795" y="340" width="1" height="19" fill="#ff0000" /><rect x="794" y="344" width="3" height="8" fill="#ff0000" /><rect x="795" y="345" width="1" height="6" fill="#ff4a00" /><rect x="799" y="347" width="1" height="3" fill="#2ec82e" /><rect x="798" y="347" width="3" height="3" fill="#2ec82e" /><rect x="803" y="339" width="1" height="17" fill="#2ec82e" /><rect x="802" y="348" width="3" height="7" fill="#2ec82e" /><rect x="807" y="346" width="1" height="20" fill="#2ec82e" /><rect x="806" y="354" width="3" height="10" fill="#2ec82e" /><rect x="811" y="334" width="1" height="31" fill="#ff0000" /><rect x="810" y="335" width="3" height="29" fill="#ff0000" /><rect x="811" y="336" width="1" height="27" fill="#ff4a00" /><rect x="815" y="324" width="1" height="18" fill="#2ec82e" /><rect x="814" y="335" width="3" height="4" fill="#2ec82e" /><rect x="819" y="326" width="1" height="14" fill="#ff0000" /><rect x="818" y="331" width="3" height="8" fill="#ff0000" /><rect x="819" y="332" width="1" height="6" fill="#ff4a00" /><rect x="823" y="334" width="1" height="1" fill="#2ec82e" /><rect x="822" y="334" width="3" height="1" fill="#2ec82e" /><rect x="827" y="324" width="1" height="22" fill="#ff0000" /><rect x="826" y="328" width="3" height="8" fill="#ff0000" /><rect x="827" y="329" width="1" height="6" fill="#ff4a00" /><rect x="831" y="304" width="1" height="25" fill="#ff0000" /><rect x="830" y="320" width="3" height="8" fill="#ff0000" /><rect x="831" y="321" width="1" height="6" fill="#ff4a00" /><rect x="835" y="309" width="1" height="18" fill="#ff0000" /><rect x="834" y="311" width="3" height="10" fill="#ff0000" /><rect x="835" y="312" width="1" height="8" fill="#ff4a00" /><rect x="839" y="305" width="1" height="20" fill="#2ec82e" /><rect x="838" y="311" width="3" height="13" fill="#2ec82e" /><rect x="843" y="310" width="1" height="16" fill="#ff0000" /><rect x="842" y="318" width="3" height="7" fill="#ff0000" /><rect x="843" y="319" width="1" height="5" fill="#ff4a00" /><rect x="847" y="315" width="1" height="3" fill="#2ec82e" /><rect x="846" y="315" width="3" height="3" fill="#2ec82e" /><rect x="851" y="306" width="1" height="33" fill="#2ec82e" /><rect x="850" y="317" width="3" height="13" fill="#2ec82e" /><rect x="855" y="323" width="1" height="18" fill="#2ec82e" /><rect x="854" y="330" width="3" height="6" fill="#2ec82e" /><rect x="859" y="324" width="1" height="17" fill="#ff0000" /><rect x="858" y="334" width="3" height="1" fill="#ff0000" /><rect x="863" y="294" width="1" height="47" fill="#ff0000" /><rect x="862" y="298" width="3" height="37" fill="#ff0000" /><rect x="863" y="299" width="1" height="35" fill="#ff4a00" /><rect x="867" y="295" width="1" height="67" fill="#2ec82e" /><rect x="866" y="298" width="3" height="54" fill="#2ec82e" /><rect x="871" y="350" width="1" height="3" fill="#2ec82e" /><rect x="870" y="350" width="3" height="3" fill="#2ec82e" /><rect x="875" y="330" width="1" height="28" fill="#ff0000" /><rect x="874" y="334" width="3" height="18" fill="#ff0000" /><rect x="875" y="335" width="1" height="16" fill="#ff4a00" /><rect x="879" y="328" width="1" height="16" fill="#2ec82e" /><rect x="878" y="336" width="3" height="7" fill="#2ec82e" /><rect x="883" y="327" width="1" height="24" fill="#ff0000" /><rect x="882" y="328" width="3" height="15" fill="#ff0000" /><rect x="883" y="329" width="1" height="13" fill="#ff4a00" /><rect x="887" y="327" width="1" height="38" fill="#2ec82e" /><rect x="886" y="328" width="3" height="26" fill="#2ec82e" /><rect x="891" y="347" width="1" height="25" fill="#2ec82e" /><rect x="890" y="353" width="3" height="3" fill="#2ec82e" /><rect x="895" y="347" width="1" height="3" fill="#ff0000" /><rect x="894" y="347" width="3" height="3" fill="#ff0000" /><rect x="895" y="348" width="1" height="1" fill="#ff4a00" /><rect x="899" y="337" width="1" height="19" fill="#ff0000" /><rect x="898" y="339" width="3" height="8" fill="#ff0000" /><rect x="899" y="340" width="1" height="6" fill="#ff4a00" /><rect x="903" y="330" width="1" height="18" fill="#ff0000" /><rect x="902" y="337" width="3" height="3" fill="#ff0000" /><rect x="903" y="338" width="1" height="1" fill="#ff4a00" /><rect x="907" y="336" width="1" height="52" fill="#2ec82e" /><rect x="906" y="337" width="3" height="47" fill="#2ec82e" /><rect x="911" y="382" width="1" height="20" fill="#2ec82e" /><rect x="910" y="383" width="3" height="17" fill="#2ec82e" /><rect x="915" y="393" width="1" height="14" fill="#2ec82e" /><rect x="914" y="399" width="3" height="3" fill="#2ec82e" /><rect x="919" y="401" width="1" height="1" fill="#2ec82e" /><rect x="918" y="401" width="3" height="1" fill="#2ec82e" /><rect x="923" y="392" width="1" height="47" fill="#2ec82e" /><rect x="922" y="402" width="3" height="33" fill="#2ec82e" /></g><g shape-rendering="crispEdges"><rect x="1167" y="198" width="41" height="11" fill="#ff0000" /></g><text x="1171.4" y="206.5" font-size="9.6" fill="#fff" text-anchor="start" font-weight="normal" textLength="32.4" lengthAdjust="spacingAndGlyphs" stroke="#fff" stroke-width="0.25" >1.19010</text><g shape-rendering="crispEdges"><rect x="1167" y="284" width="41" height="11" fill="#ff0000" /></g><text x="1171.4" y="292.5" font-size="9.6" fill="#fff" text-anchor="start" font-weight="normal" textLength="32.4" lengthAdjust="spacingAndGlyphs" stroke="#fff" stroke-width="0.25" >1.17012</text><g shape-rendering="crispEdges"><rect x="1167" y="357" width="41" height="11" fill="#00ff00" /></g><text x="1171.4" y="365.5" font-size="9.6" fill="#fff" text-anchor="start" font-weight="normal" textLength="32.4" lengthAdjust="spacingAndGlyphs" stroke="#fff" stroke-width="0.25" >1.15299</text><g shape-rendering="crispEdges"><rect x="1167" y="413" width="41" height="11" fill="#0000ff" /></g><text x="1171.4" y="421.5" font-size="9.6" fill="#fff" text-anchor="start" font-weight="normal" textLength="32.4" lengthAdjust="spacingAndGlyphs" stroke="#fff" stroke-width="0.25" >1.14017</text><g shape-rendering="crispEdges"><rect x="1167" y="429" width="41" height="11" fill="#000000" /></g><text x="1171.4" y="437.5" font-size="9.6" fill="#fff" text-anchor="start" font-weight="normal" textLength="32.4" lengthAdjust="spacingAndGlyphs" stroke="#fff" stroke-width="0.25" >1.13660</text><path d="M6 37 L13 37 L9.5 33 Z" fill="#000"/><text x="18.5" y="38.3" font-size="10" fill="#000" text-anchor="start" font-weight="normal" textLength="66.5" lengthAdjust="spacingAndGlyphs" stroke="#000" stroke-width="0.25" >EURUSD-,Daily</text><text x="91.5" y="38.3" font-size="10" fill="#000" text-anchor="start" font-weight="normal" textLength="140.5" lengthAdjust="spacingAndGlyphs" stroke="#000" stroke-width="0.25" >1.14403 1.14630 1.13553 1.13660</text><g clip-path="url(#cmacd)" shape-rendering="crispEdges"><rect x="2" y="487" width="3" height="6" fill="#c0c0c0" /><rect x="6" y="487" width="3" height="4" fill="#c0c0c0" /><rect x="10" y="487" width="3" height="3" fill="#c0c0c0" /><rect x="14" y="487" width="3" height="0" fill="#c0c0c0" /><rect x="18" y="485" width="3" height="2" fill="#c0c0c0" /><rect x="22" y="483" width="3" height="4" fill="#c0c0c0" /><rect x="26" y="481" width="3" height="6" fill="#c0c0c0" /><rect x="30" y="484" width="3" height="3" fill="#c0c0c0" /><rect x="34" y="486" width="3" height="1" fill="#c0c0c0" /><rect x="38" y="487" width="3" height="2" fill="#c0c0c0" /><rect x="42" y="487" width="3" height="2" fill="#c0c0c0" /><rect x="46" y="487" width="3" height="5" fill="#c0c0c0" /><rect x="50" y="487" width="3" height="9" fill="#c0c0c0" /><rect x="54" y="487" width="3" height="16" fill="#c0c0c0" /><rect x="58" y="487" width="3" height="19" fill="#c0c0c0" /><rect x="62" y="487" width="3" height="26" fill="#c0c0c0" /><rect x="66" y="487" width="3" height="28" fill="#c0c0c0" /><rect x="70" y="487" width="3" height="28" fill="#c0c0c0" /><rect x="74" y="487" width="3" height="26" fill="#c0c0c0" /><rect x="78" y="487" width="3" height="25" fill="#c0c0c0" /><rect x="82" y="487" width="3" height="24" fill="#c0c0c0" /><rect x="86" y="487" width="3" height="24" fill="#c0c0c0" /><rect x="90" y="487" width="3" height="25" fill="#c0c0c0" /><rect x="94" y="487" width="3" height="22" fill="#c0c0c0" /><rect x="98" y="487" width="3" height="22" fill="#c0c0c0" /><rect x="102" y="487" width="3" height="22" fill="#c0c0c0" /><rect x="106" y="487" width="3" height="23" fill="#c0c0c0" /><rect x="110" y="487" width="3" height="21" fill="#c0c0c0" /><rect x="114" y="487" width="3" height="24" fill="#c0c0c0" /><rect x="118" y="487" width="3" height="26" fill="#c0c0c0" /><rect x="122" y="487" width="3" height="30" fill="#c0c0c0" /><rect x="126" y="487" width="3" height="31" fill="#c0c0c0" /><rect x="130" y="487" width="3" height="32" fill="#c0c0c0" /><rect x="134" y="487" width="3" height="34" fill="#c0c0c0" /><rect x="138" y="487" width="3" height="36" fill="#c0c0c0" /><rect x="142" y="487" width="3" height="38" fill="#c0c0c0" /><rect x="146" y="487" width="3" height="36" fill="#c0c0c0" /><rect x="150" y="487" width="3" height="35" fill="#c0c0c0" /><rect x="154" y="487" width="3" height="31" fill="#c0c0c0" /><rect x="158" y="487" width="3" height="26" fill="#c0c0c0" /><rect x="162" y="487" width="3" height="22" fill="#c0c0c0" /><rect x="166" y="487" width="3" height="16" fill="#c0c0c0" /><rect x="170" y="487" width="3" height="12" fill="#c0c0c0" /><rect x="174" y="487" width="3" height="9" fill="#c0c0c0" /><rect x="178" y="487" width="3" height="6" fill="#c0c0c0" /><rect x="182" y="487" width="3" height="2" fill="#c0c0c0" /><rect x="186" y="484" width="3" height="3" fill="#c0c0c0" /><rect x="190" y="481" width="3" height="6" fill="#c0c0c0" /><rect x="194" y="479" width="3" height="8" fill="#c0c0c0" /><rect x="198" y="477" width="3" height="10" fill="#c0c0c0" /><rect x="202" y="473" width="3" height="14" fill="#c0c0c0" /><rect x="206" y="470" width="3" height="17" fill="#c0c0c0" /><rect x="210" y="468" width="3" height="19" fill="#c0c0c0" /><rect x="214" y="468" width="3" height="19" fill="#c0c0c0" /><rect x="218" y="464" width="3" height="23" fill="#c0c0c0" /><rect x="222" y="462" width="3" height="25" fill="#c0c0c0" /><rect x="226" y="461" width="3" height="26" fill="#c0c0c0" /><rect x="230" y="460" width="3" height="27" fill="#c0c0c0" /><rect x="234" y="457" width="3" height="30" fill="#c0c0c0" /><rect x="238" y="456" width="3" height="31" fill="#c0c0c0" /><rect x="242" y="460" width="3" height="27" fill="#c0c0c0" /><rect x="246" y="463" width="3" height="24" fill="#c0c0c0" /><rect x="250" y="464" width="3" height="23" fill="#c0c0c0" /><rect x="254" y="468" width="3" height="19" fill="#c0c0c0" /><rect x="258" y="471" width="3" height="16" fill="#c0c0c0" /><rect x="262" y="471" width="3" height="16" fill="#c0c0c0" /><rect x="266" y="467" width="3" height="20" fill="#c0c0c0" /><rect x="270" y="464" width="3" height="23" fill="#c0c0c0" /><rect x="274" y="463" width="3" height="24" fill="#c0c0c0" /><rect x="278" y="462" width="3" height="25" fill="#c0c0c0" /><rect x="282" y="465" width="3" height="22" fill="#c0c0c0" /><rect x="286" y="467" width="3" height="20" fill="#c0c0c0" /><rect x="290" y="466" width="3" height="21" fill="#c0c0c0" /><rect x="294" y="466" width="3" height="21" fill="#c0c0c0" /><rect x="298" y="465" width="3" height="22" fill="#c0c0c0" /><rect x="302" y="462" width="3" height="25" fill="#c0c0c0" /><rect x="306" y="462" width="3" height="25" fill="#c0c0c0" /><rect x="310" y="460" width="3" height="27" fill="#c0c0c0" /><rect x="314" y="461" width="3" height="26" fill="#c0c0c0" /><rect x="318" y="462" width="3" height="25" fill="#c0c0c0" /><rect x="322" y="462" width="3" height="25" fill="#c0c0c0" /><rect x="326" y="460" width="3" height="27" fill="#c0c0c0" /><rect x="330" y="462" width="3" height="25" fill="#c0c0c0" /><rect x="334" y="463" width="3" height="24" fill="#c0c0c0" /><rect x="338" y="464" width="3" height="23" fill="#c0c0c0" /><rect x="342" y="466" width="3" height="21" fill="#c0c0c0" /><rect x="346" y="465" width="3" height="22" fill="#c0c0c0" /><rect x="350" y="466" width="3" height="21" fill="#c0c0c0" /><rect x="354" y="467" width="3" height="20" fill="#c0c0c0" /><rect x="358" y="471" width="3" height="16" fill="#c0c0c0" /><rect x="362" y="473" width="3" height="14" fill="#c0c0c0" /><rect x="366" y="475" width="3" height="12" fill="#c0c0c0" /><rect x="370" y="476" width="3" height="11" fill="#c0c0c0" /><rect x="374" y="477" width="3" height="10" fill="#c0c0c0" /><rect x="378" y="478" width="3" height="9" fill="#c0c0c0" /><rect x="382" y="479" width="3" height="8" fill="#c0c0c0" /><rect x="386" y="483" width="3" height="4" fill="#c0c0c0" /><rect x="390" y="485" width="3" height="2" fill="#c0c0c0" /><rect x="394" y="487" width="3" height="0" fill="#c0c0c0" /><rect x="398" y="487" width="3" height="1" fill="#c0c0c0" /><rect x="402" y="487" width="3" height="7" fill="#c0c0c0" /><rect x="406" y="487" width="3" height="16" fill="#c0c0c0" /><rect x="410" y="487" width="3" height="24" fill="#c0c0c0" /><rect x="414" y="487" width="3" height="30" fill="#c0c0c0" /><rect x="418" y="487" width="3" height="32" fill="#c0c0c0" /><rect x="422" y="487" width="3" height="33" fill="#c0c0c0" /><rect x="426" y="487" width="3" height="33" fill="#c0c0c0" /><rect x="430" y="487" width="3" height="33" fill="#c0c0c0" /><rect x="434" y="487" width="3" height="33" fill="#c0c0c0" /><rect x="438" y="487" width="3" height="32" fill="#c0c0c0" /><rect x="442" y="487" width="3" height="31" fill="#c0c0c0" /><rect x="446" y="487" width="3" height="31" fill="#c0c0c0" /><rect x="450" y="487" width="3" height="33" fill="#c0c0c0" /><rect x="454" y="487" width="3" height="34" fill="#c0c0c0" /><rect x="458" y="487" width="3" height="34" fill="#c0c0c0" /><rect x="462" y="487" width="3" height="34" fill="#c0c0c0" /><rect x="466" y="487" width="3" height="33" fill="#c0c0c0" /><rect x="470" y="487" width="3" height="34" fill="#c0c0c0" /><rect x="474" y="487" width="3" height="35" fill="#c0c0c0" /><rect x="478" y="487" width="3" height="33" fill="#c0c0c0" /><rect x="482" y="487" width="3" height="31" fill="#c0c0c0" /><rect x="486" y="487" width="3" height="28" fill="#c0c0c0" /><rect x="490" y="487" width="3" height="26" fill="#c0c0c0" /><rect x="494" y="487" width="3" height="28" fill="#c0c0c0" /><rect x="498" y="487" width="3" height="27" fill="#c0c0c0" /><rect x="502" y="487" width="3" height="27" fill="#c0c0c0" /><rect x="506" y="487" width="3" height="26" fill="#c0c0c0" /><rect x="510" y="487" width="3" height="25" fill="#c0c0c0" /><rect x="514" y="487" width="3" height="25" fill="#c0c0c0" /><rect x="518" y="487" width="3" height="25" fill="#c0c0c0" /><rect x="522" y="487" width="3" height="24" fill="#c0c0c0" /><rect x="526" y="487" width="3" height="25" fill="#c0c0c0" /><rect x="530" y="487" width="3" height="24" fill="#c0c0c0" /><rect x="534" y="487" width="3" height="24" fill="#c0c0c0" /><rect x="538" y="487" width="3" height="22" fill="#c0c0c0" /><rect x="542" y="487" width="3" height="19" fill="#c0c0c0" /><rect x="546" y="487" width="3" height="16" fill="#c0c0c0" /><rect x="550" y="487" width="3" height="11" fill="#c0c0c0" /><rect x="554" y="487" width="3" height="9" fill="#c0c0c0" /><rect x="558" y="487" width="3" height="7" fill="#c0c0c0" /><rect x="562" y="487" width="3" height="5" fill="#c0c0c0" /><rect x="566" y="487" width="3" height="3" fill="#c0c0c0" /><rect x="570" y="487" width="3" height="3" fill="#c0c0c0" /><rect x="574" y="487" width="3" height="3" fill="#c0c0c0" /><rect x="578" y="487" width="3" height="6" fill="#c0c0c0" /><rect x="582" y="487" width="3" height="9" fill="#c0c0c0" /><rect x="586" y="487" width="3" height="12" fill="#c0c0c0" /><rect x="590" y="487" width="3" height="14" fill="#c0c0c0" /><rect x="594" y="487" width="3" height="15" fill="#c0c0c0" /><rect x="598" y="487" width="3" height="16" fill="#c0c0c0" /><rect x="602" y="487" width="3" height="14" fill="#c0c0c0" /><rect x="606" y="487" width="3" height="12" fill="#c0c0c0" /><rect x="610" y="487" width="3" height="11" fill="#c0c0c0" /><rect x="614" y="487" width="3" height="14" fill="#c0c0c0" /><rect x="618" y="487" width="3" height="15" fill="#c0c0c0" /><rect x="622" y="487" width="3" height="18" fill="#c0c0c0" /><rect x="626" y="487" width="3" height="18" fill="#c0c0c0" /><rect x="630" y="487" width="3" height="19" fill="#c0c0c0" /><rect x="634" y="487" width="3" height="17" fill="#c0c0c0" /><rect x="638" y="487" width="3" height="15" fill="#c0c0c0" /><rect x="642" y="487" width="3" height="12" fill="#c0c0c0" /><rect x="646" y="487" width="3" height="11" fill="#c0c0c0" /><rect x="650" y="487" width="3" height="8" fill="#c0c0c0" /><rect x="654" y="487" width="3" height="5" fill="#c0c0c0" /><rect x="658" y="487" width="3" height="3" fill="#c0c0c0" /><rect x="662" y="487" width="3" height="1" fill="#c0c0c0" /><rect x="666" y="485" width="3" height="2" fill="#c0c0c0" /><rect x="670" y="481" width="3" height="6" fill="#c0c0c0" /><rect x="674" y="478" width="3" height="9" fill="#c0c0c0" /><rect x="678" y="476" width="3" height="11" fill="#c0c0c0" /><rect x="682" y="474" width="3" height="13" fill="#c0c0c0" /><rect x="686" y="474" width="3" height="13" fill="#c0c0c0" /><rect x="690" y="476" width="3" height="11" fill="#c0c0c0" /><rect x="694" y="477" width="3" height="10" fill="#c0c0c0" /><rect x="698" y="478" width="3" height="9" fill="#c0c0c0" /><rect x="702" y="480" width="3" height="7" fill="#c0c0c0" /><rect x="706" y="481" width="3" height="6" fill="#c0c0c0" /><rect x="710" y="482" width="3" height="5" fill="#c0c0c0" /><rect x="714" y="482" width="3" height="5" fill="#c0c0c0" /><rect x="718" y="485" width="3" height="2" fill="#c0c0c0" /><rect x="722" y="487" width="3" height="2" fill="#c0c0c0" /><rect x="726" y="487" width="3" height="4" fill="#c0c0c0" /><rect x="730" y="487" width="3" height="6" fill="#c0c0c0" /><rect x="734" y="487" width="3" height="8" fill="#c0c0c0" /><rect x="738" y="487" width="3" height="11" fill="#c0c0c0" /><rect x="742" y="487" width="3" height="11" fill="#c0c0c0" /><rect x="746" y="487" width="3" height="12" fill="#c0c0c0" /><rect x="750" y="487" width="3" height="12" fill="#c0c0c0" /><rect x="754" y="487" width="3" height="13" fill="#c0c0c0" /><rect x="758" y="487" width="3" height="14" fill="#c0c0c0" /><rect x="762" y="487" width="3" height="18" fill="#c0c0c0" /><rect x="766" y="487" width="3" height="22" fill="#c0c0c0" /><rect x="770" y="487" width="3" height="24" fill="#c0c0c0" /><rect x="774" y="487" width="3" height="25" fill="#c0c0c0" /><rect x="778" y="487" width="3" height="25" fill="#c0c0c0" /><rect x="782" y="487" width="3" height="26" fill="#c0c0c0" /><rect x="786" y="487" width="3" height="28" fill="#c0c0c0" /><rect x="790" y="487" width="3" height="29" fill="#c0c0c0" /><rect x="794" y="487" width="3" height="29" fill="#c0c0c0" /><rect x="798" y="487" width="3" height="29" fill="#c0c0c0" /><rect x="802" y="487" width="3" height="29" fill="#c0c0c0" /><rect x="806" y="487" width="3" height="29" fill="#c0c0c0" /><rect x="810" y="487" width="3" height="27" fill="#c0c0c0" /><rect x="814" y="487" width="3" height="25" fill="#c0c0c0" /><rect x="818" y="487" width="3" height="22" fill="#c0c0c0" /><rect x="822" y="487" width="3" height="20" fill="#c0c0c0" /><rect x="826" y="487" width="3" height="18" fill="#c0c0c0" /><rect x="830" y="487" width="3" height="15" fill="#c0c0c0" /><rect x="834" y="487" width="3" height="12" fill="#c0c0c0" /><rect x="838" y="487" width="3" height="10" fill="#c0c0c0" /><rect x="842" y="487" width="3" height="8" fill="#c0c0c0" /><rect x="846" y="487" width="3" height="7" fill="#c0c0c0" /><rect x="850" y="487" width="3" height="7" fill="#c0c0c0" /><rect x="854" y="487" width="3" height="7" fill="#c0c0c0" /><rect x="858" y="487" width="3" height="7" fill="#c0c0c0" /><rect x="862" y="487" width="3" height="4" fill="#c0c0c0" /><rect x="866" y="487" width="3" height="6" fill="#c0c0c0" /><rect x="870" y="487" width="3" height="8" fill="#c0c0c0" /><rect x="874" y="487" width="3" height="7" fill="#c0c0c0" /><rect x="878" y="487" width="3" height="8" fill="#c0c0c0" /><rect x="882" y="487" width="3" height="7" fill="#c0c0c0" /><rect x="886" y="487" width="3" height="8" fill="#c0c0c0" /><rect x="890" y="487" width="3" height="9" fill="#c0c0c0" /><rect x="894" y="487" width="3" height="9" fill="#c0c0c0" /><rect x="898" y="487" width="3" height="8" fill="#c0c0c0" /><rect x="902" y="487" width="3" height="7" fill="#c0c0c0" /><rect x="906" y="487" width="3" height="11" fill="#c0c0c0" /><rect x="910" y="487" width="3" height="15" fill="#c0c0c0" /><rect x="914" y="487" width="3" height="19" fill="#c0c0c0" /><rect x="918" y="487" width="3" height="21" fill="#c0c0c0" /><rect x="922" y="487" width="3" height="26" fill="#c0c0c0" /></g><path clip-path="url(#cmacd)" fill="#ff0000" shape-rendering="crispEdges" d="M245 461h12v1h-12zM80 508h2v1h-2zM180 508h1v1h-1zM429 508h1v1h-1zM550 508h2v1h-2zM784 508h2v1h-2zM836 508h2v1h-2zM71 502h1v1h-1zM186 502h1v1h-1zM422 502h1v1h-1zM562 502h2v1h-2zM621 502h32v1h-32zM770 502h2v1h-2zM846 502h2v1h-2zM214 477h2v1h-2zM390 477h2v1h-2zM701 477h8v1h-8zM232 466h2v1h-2zM273 466h24v1h-24zM361 466h3v1h-3zM217 475h2v1h-2zM385 475h3v1h-3zM84 510h2v1h-2zM109 510h12v1h-12zM177 510h2v1h-2zM431 510h1v1h-1zM545 510h3v1h-3zM788 510h2v1h-2zM832 510h2v1h-2zM241 462h4v1h-4zM257 462h4v1h-4zM325 462h20v1h-20zM72 503h1v1h-1zM185 503h1v1h-1zM423 503h1v1h-1zM560 503h2v1h-2zM772 503h2v1h-2zM844 503h2v1h-2zM67 499h1v1h-1zM189 499h1v1h-1zM420 499h1v1h-1zM568 499h2v1h-2zM609 499h4v1h-4zM658 499h2v1h-2zM762 499h3v1h-3zM852 499h2v1h-2zM918 499h2v1h-2zM149 520h4v1h-4zM157 520h4v1h-4zM457 520h32v1h-32zM4 494h2v1h-2zM61 494h2v1h-2zM194 494h1v1h-1zM415 494h1v1h-1zM577 494h4v1h-4zM589 494h4v1h-4zM668 494h1v1h-1zM750 494h2v1h-2zM865 494h32v1h-32zM129 513h4v1h-4zM173 513h2v1h-2zM434 513h1v1h-1zM521 513h8v1h-8zM797 513h4v1h-4zM821 513h4v1h-4zM230 467h2v1h-2zM364 467h2v1h-2zM89 512h12v1h-12zM125 512h4v1h-4zM175 512h1v1h-1zM433 512h1v1h-1zM529 512h8v1h-8zM793 512h4v1h-4zM825 512h4v1h-4zM207 483h1v1h-1zM402 483h2v1h-2zM684 483h2v1h-2zM726 483h2v1h-2zM69 501h2v1h-2zM187 501h1v1h-1zM421 501h1v1h-1zM564 501h2v1h-2zM617 501h4v1h-4zM653 501h3v1h-3zM768 501h2v1h-2zM848 501h2v1h-2zM922 501h2v1h-2zM64 496h1v1h-1zM192 496h1v1h-1zM417 496h1v1h-1zM573 496h2v1h-2zM597 496h4v1h-4zM664 496h2v1h-2zM754 496h3v1h-3zM860 496h2v1h-2zM909 496h4v1h-4zM236 464h2v1h-2zM265 464h4v1h-4zM301 464h20v1h-20zM353 464h4v1h-4zM66 498h1v1h-1zM190 498h1v1h-1zM419 498h1v1h-1zM570 498h2v1h-2zM605 498h4v1h-4zM660 498h2v1h-2zM760 498h2v1h-2zM854 498h3v1h-3zM916 498h2v1h-2zM86 511h3v1h-3zM101 511h8v1h-8zM121 511h4v1h-4zM176 511h1v1h-1zM432 511h1v1h-1zM537 511h8v1h-8zM790 511h3v1h-3zM829 511h3v1h-3zM73 504h2v1h-2zM184 504h1v1h-1zM424 504h1v1h-1zM558 504h2v1h-2zM774 504h3v1h-3zM843 504h1v1h-1zM136 515h2v1h-2zM170 515h2v1h-2zM436 515h2v1h-2zM509 515h4v1h-4zM805 515h12v1h-12zM37 486h12v1h-12zM203 486h1v1h-1zM407 486h1v1h-1zM680 486h1v1h-1zM733 486h3v1h-3zM220 473h1v1h-1zM380 473h2v1h-2zM205 484h2v1h-2zM404 484h1v1h-1zM683 484h1v1h-1zM728 484h2v1h-2zM78 507h2v1h-2zM181 507h1v1h-1zM428 507h1v1h-1zM552 507h2v1h-2zM782 507h2v1h-2zM838 507h2v1h-2zM146 519h3v1h-3zM161 519h3v1h-3zM445 519h12v1h-12zM489 519h4v1h-4zM212 478h2v1h-2zM392 478h2v1h-2zM697 478h4v1h-4zM709 478h7v1h-7zM17 490h4v1h-4zM56 490h1v1h-1zM198 490h1v1h-1zM411 490h1v1h-1zM674 490h2v1h-2zM742 490h2v1h-2zM208 482h1v1h-1zM400 482h2v1h-2zM686 482h2v1h-2zM724 482h2v1h-2zM133 514h3v1h-3zM172 514h1v1h-1zM435 514h1v1h-1zM513 514h8v1h-8zM801 514h4v1h-4zM817 514h4v1h-4zM3 495h1v1h-1zM63 495h1v1h-1zM193 495h1v1h-1zM416 495h1v1h-1zM575 495h2v1h-2zM593 495h4v1h-4zM666 495h2v1h-2zM752 495h2v1h-2zM862 495h3v1h-3zM897 495h12v1h-12zM6 493h3v1h-3zM60 493h1v1h-1zM195 493h1v1h-1zM414 493h1v1h-1zM581 493h8v1h-8zM669 493h2v1h-2zM748 493h2v1h-2zM33 487h4v1h-4zM49 487h3v1h-3zM201 487h2v1h-2zM408 487h1v1h-1zM679 487h1v1h-1zM736 487h2v1h-2zM76 506h2v1h-2zM182 506h1v1h-1zM427 506h1v1h-1zM554 506h2v1h-2zM780 506h2v1h-2zM840 506h1v1h-1zM65 497h1v1h-1zM191 497h1v1h-1zM418 497h1v1h-1zM572 497h1v1h-1zM601 497h4v1h-4zM662 497h2v1h-2zM757 497h3v1h-3zM857 497h3v1h-3zM913 497h3v1h-3zM144 518h2v1h-2zM164 518h2v1h-2zM442 518h3v1h-3zM493 518h8v1h-8zM75 505h1v1h-1zM183 505h1v1h-1zM425 505h2v1h-2zM556 505h2v1h-2zM777 505h3v1h-3zM841 505h2v1h-2zM82 509h2v1h-2zM179 509h1v1h-1zM430 509h1v1h-1zM548 509h2v1h-2zM786 509h2v1h-2zM834 509h2v1h-2zM211 479h1v1h-1zM394 479h2v1h-2zM693 479h4v1h-4zM716 479h2v1h-2zM226 469h2v1h-2zM369 469h3v1h-3zM68 500h1v1h-1zM188 500h1v1h-1zM421 500h1v1h-1zM566 500h2v1h-2zM613 500h4v1h-4zM656 500h2v1h-2zM765 500h3v1h-3zM850 500h2v1h-2zM920 500h2v1h-2zM25 488h8v1h-8zM52 488h2v1h-2zM200 488h1v1h-1zM409 488h1v1h-1zM677 488h2v1h-2zM738 488h2v1h-2zM209 481h1v1h-1zM398 481h2v1h-2zM688 481h2v1h-2zM721 481h3v1h-3zM210 480h1v1h-1zM396 480h2v1h-2zM690 480h3v1h-3zM718 480h3v1h-3zM216 476h1v1h-1zM388 476h2v1h-2zM238 463h3v1h-3zM261 463h4v1h-4zM321 463h4v1h-4zM345 463h8v1h-8zM153 521h4v1h-4zM13 491h4v1h-4zM57 491h2v1h-2zM197 491h1v1h-1zM412 491h1v1h-1zM672 491h2v1h-2zM744 491h2v1h-2zM219 474h1v1h-1zM382 474h3v1h-3zM234 465h2v1h-2zM269 465h4v1h-4zM297 465h4v1h-4zM357 465h4v1h-4zM141 517h3v1h-3zM166 517h2v1h-2zM440 517h2v1h-2zM501 517h4v1h-4zM138 516h3v1h-3zM168 516h2v1h-2zM438 516h2v1h-2zM505 516h4v1h-4zM228 468h2v1h-2zM366 468h3v1h-3zM224 470h2v1h-2zM372 470h2v1h-2zM21 489h4v1h-4zM54 489h2v1h-2zM199 489h1v1h-1zM410 489h1v1h-1zM676 489h1v1h-1zM740 489h2v1h-2zM9 492h4v1h-4zM59 492h1v1h-1zM196 492h1v1h-1zM413 492h1v1h-1zM671 492h1v1h-1zM746 492h2v1h-2zM204 485h1v1h-1zM405 485h2v1h-2zM681 485h2v1h-2zM730 485h3v1h-3zM221 472h2v1h-2zM377 472h3v1h-3zM223 471h1v1h-1zM374 471h3v1h-3z"/><text x="7.5" y="464" font-size="10" fill="#000" text-anchor="start" font-weight="normal" textLength="153.5" lengthAdjust="spacingAndGlyphs" stroke="#000" stroke-width="0.25" >MACD(12,26,9) -0.005089 -0.002807</text><g shape-rendering="crispEdges"><rect x="1166" y="453" width="2" height="1" fill="#000" /><rect x="1166" y="487" width="2" height="1" fill="#000" /><rect x="1166" y="527" width="2" height="1" fill="#000" /></g><text x="1169.6" y="462" font-size="9.6" fill="#000" text-anchor="start" font-weight="normal" textLength="36.2" lengthAdjust="spacingAndGlyphs" stroke="#000" stroke-width="0.25" >0.006485</text><text x="1169.6" y="490.8" font-size="9.6" fill="#000" text-anchor="start" font-weight="normal" textLength="16.9" lengthAdjust="spacingAndGlyphs" stroke="#000" stroke-width="0.25" >0.00</text><text x="1169.6" y="526.3" font-size="9.6" fill="#000" text-anchor="start" font-weight="normal" textLength="40.5" lengthAdjust="spacingAndGlyphs" stroke="#000" stroke-width="0.25" >-0.007947</text><g shape-rendering="crispEdges"><line x1="4" y1="556.5" x2="1165" y2="556.5" stroke="#c0c0c0" stroke-width="1" stroke-dasharray="3,3"/><line x1="4" y1="587.5" x2="1165" y2="587.5" stroke="#c0c0c0" stroke-width="1" stroke-dasharray="3,3"/><rect x="1166" y="533" width="2" height="1" fill="#000" /><rect x="1166" y="556" width="2" height="1" fill="#000" /><rect x="1166" y="587" width="2" height="1" fill="#000" /><rect x="1166" y="610" width="2" height="1" fill="#000" /></g><path clip-path="url(#crsi)" fill="#1e90ff" shape-rendering="crispEdges" d="M50 583h1v1h-1zM68 583h1v1h-1zM118 583h3v1h-3zM125 583h8v1h-8zM145 583h1v1h-1zM402 583h1v1h-1zM423 583h6v1h-6zM433 583h4v1h-4zM441 583h3v1h-3zM478 583h1v1h-1zM493 583h1v1h-1zM497 583h1v1h-1zM526 583h10v1h-10zM581 583h4v1h-4zM593 583h1v1h-1zM617 583h3v1h-3zM625 583h1v1h-1zM723 583h2v1h-2zM729 583h7v1h-7zM741 583h1v1h-1zM757 583h3v1h-3zM809 583h1v1h-1zM908 583h2v1h-2zM4 572h2v1h-2zM29 572h1v1h-1zM158 572h1v1h-1zM161 572h3v1h-3zM257 572h3v1h-3zM358 572h1v1h-1zM361 572h2v1h-2zM384 572h1v1h-1zM546 572h1v1h-1zM569 572h1v1h-1zM641 572h2v1h-2zM644 572h1v1h-1zM649 572h1v1h-1zM701 572h8v1h-8zM712 572h1v1h-1zM716 572h1v1h-1zM831 572h1v1h-1zM838 572h1v1h-1zM841 572h4v1h-4zM848 572h1v1h-1zM860 572h1v1h-1zM865 572h1v1h-1zM883 572h1v1h-1zM10 569h2v1h-2zM29 569h1v1h-1zM166 569h1v1h-1zM168 569h2v1h-2zM177 569h3v1h-3zM243 569h1v1h-1zM245 569h3v1h-3zM253 569h1v1h-1zM261 569h1v1h-1zM283 569h5v1h-5zM356 569h1v1h-1zM370 569h2v1h-2zM549 569h1v1h-1zM553 569h1v1h-1zM561 569h4v1h-4zM651 569h2v1h-2zM689 569h1v1h-1zM835 569h1v1h-1zM862 569h1v1h-1zM864 569h1v1h-1zM62 588h1v1h-1zM64 588h1v1h-1zM406 588h1v1h-1zM417 588h1v1h-1zM451 588h5v1h-5zM472 588h2v1h-2zM476 588h1v1h-1zM762 588h1v1h-1zM770 588h1v1h-1zM785 588h2v1h-2zM789 588h3v1h-3zM804 588h2v1h-2zM807 588h1v1h-1zM922 588h1v1h-1zM51 584h1v1h-1zM67 584h1v1h-1zM121 584h4v1h-4zM133 584h3v1h-3zM145 584h1v1h-1zM403 584h1v1h-1zM421 584h2v1h-2zM429 584h4v1h-4zM444 584h2v1h-2zM466 584h2v1h-2zM478 584h1v1h-1zM494 584h1v1h-1zM496 584h1v1h-1zM585 584h4v1h-4zM592 584h1v1h-1zM620 584h2v1h-2zM624 584h1v1h-1zM736 584h1v1h-1zM740 584h1v1h-1zM760 584h1v1h-1zM778 584h2v1h-2zM809 584h1v1h-1zM910 584h10v1h-10zM30 575h1v1h-1zM34 575h2v1h-2zM42 575h1v1h-1zM44 575h1v1h-1zM94 575h1v1h-1zM97 575h1v1h-1zM156 575h1v1h-1zM385 575h1v1h-1zM394 575h6v1h-6zM542 575h2v1h-2zM576 575h1v1h-1zM602 575h1v1h-1zM610 575h2v1h-2zM635 575h2v1h-2zM717 575h1v1h-1zM826 575h2v1h-2zM851 575h1v1h-1zM859 575h1v1h-1zM866 575h1v1h-1zM874 575h1v1h-1zM876 575h2v1h-2zM880 575h1v1h-1zM885 575h1v1h-1zM895 575h1v1h-1zM904 575h1v1h-1zM201 562h1v1h-1zM212 562h1v1h-1zM216 562h1v1h-1zM240 562h1v1h-1zM266 562h1v1h-1zM273 562h2v1h-2zM301 562h1v1h-1zM305 562h1v1h-1zM310 562h1v1h-1zM312 562h1v1h-1zM325 562h2v1h-2zM328 562h1v1h-1zM668 562h1v1h-1zM684 562h1v1h-1zM55 587h1v1h-1zM61 587h1v1h-1zM65 587h1v1h-1zM139 587h2v1h-2zM405 587h1v1h-1zM418 587h1v1h-1zM449 587h2v1h-2zM456 587h1v1h-1zM471 587h1v1h-1zM476 587h1v1h-1zM739 587h1v1h-1zM762 587h1v1h-1zM771 587h2v1h-2zM784 587h1v1h-1zM792 587h1v1h-1zM801 587h3v1h-3zM808 587h1v1h-1zM921 587h1v1h-1zM48 580h1v1h-1zM72 580h1v1h-1zM88 580h2v1h-2zM92 580h1v1h-1zM106 580h2v1h-2zM114 580h1v1h-1zM152 580h1v1h-1zM401 580h1v1h-1zM481 580h1v1h-1zM492 580h1v1h-1zM498 580h1v1h-1zM501 580h12v1h-12zM537 580h1v1h-1zM578 580h1v1h-1zM600 580h1v1h-1zM614 580h1v1h-1zM632 580h1v1h-1zM720 580h1v1h-1zM742 580h1v1h-1zM747 580h1v1h-1zM753 580h1v1h-1zM810 580h1v1h-1zM906 580h1v1h-1zM49 581h1v1h-1zM71 581h1v1h-1zM90 581h2v1h-2zM115 581h1v1h-1zM147 581h5v1h-5zM401 581h1v1h-1zM480 581h1v1h-1zM492 581h1v1h-1zM498 581h1v1h-1zM513 581h4v1h-4zM521 581h3v1h-3zM536 581h1v1h-1zM579 581h1v1h-1zM595 581h2v1h-2zM599 581h1v1h-1zM614 581h1v1h-1zM627 581h5v1h-5zM721 581h1v1h-1zM741 581h1v1h-1zM754 581h1v1h-1zM810 581h1v1h-1zM907 581h1v1h-1zM6 571h2v1h-2zM29 571h1v1h-1zM159 571h2v1h-2zM164 571h1v1h-1zM255 571h2v1h-2zM260 571h1v1h-1zM357 571h1v1h-1zM363 571h5v1h-5zM374 571h3v1h-3zM381 571h3v1h-3zM547 571h1v1h-1zM555 571h2v1h-2zM568 571h1v1h-1zM643 571h1v1h-1zM649 571h1v1h-1zM691 571h2v1h-2zM697 571h4v1h-4zM713 571h3v1h-3zM832 571h1v1h-1zM837 571h1v1h-1zM845 571h3v1h-3zM861 571h1v1h-1zM865 571h1v1h-1zM3 573h1v1h-1zM30 573h1v1h-1zM95 573h1v1h-1zM157 573h1v1h-1zM358 573h1v1h-1zM360 573h1v1h-1zM384 573h1v1h-1zM545 573h1v1h-1zM570 573h1v1h-1zM603 573h5v1h-5zM640 573h1v1h-1zM645 573h2v1h-2zM648 573h1v1h-1zM709 573h3v1h-3zM716 573h1v1h-1zM829 573h2v1h-2zM839 573h2v1h-2zM849 573h1v1h-1zM860 573h1v1h-1zM865 573h1v1h-1zM882 573h1v1h-1zM884 573h1v1h-1zM898 573h6v1h-6zM52 585h1v1h-1zM58 585h2v1h-2zM66 585h1v1h-1zM136 585h1v1h-1zM144 585h1v1h-1zM403 585h1v1h-1zM420 585h1v1h-1zM446 585h2v1h-2zM459 585h2v1h-2zM464 585h2v1h-2zM468 585h1v1h-1zM477 585h1v1h-1zM494 585h1v1h-1zM496 585h1v1h-1zM589 585h3v1h-3zM622 585h2v1h-2zM737 585h1v1h-1zM740 585h1v1h-1zM760 585h1v1h-1zM776 585h2v1h-2zM780 585h2v1h-2zM795 585h2v1h-2zM808 585h1v1h-1zM920 585h1v1h-1zM8 570h2v1h-2zM29 570h1v1h-1zM165 570h1v1h-1zM170 570h7v1h-7zM243 570h2v1h-2zM254 570h1v1h-1zM261 570h1v1h-1zM357 570h1v1h-1zM368 570h2v1h-2zM372 570h2v1h-2zM377 570h4v1h-4zM548 570h1v1h-1zM554 570h1v1h-1zM557 570h4v1h-4zM565 570h3v1h-3zM650 570h1v1h-1zM690 570h1v1h-1zM693 570h4v1h-4zM715 570h1v1h-1zM833 570h2v1h-2zM836 570h1v1h-1zM861 570h1v1h-1zM865 570h1v1h-1zM31 576h3v1h-3zM36 576h1v1h-1zM41 576h1v1h-1zM45 576h1v1h-1zM75 576h1v1h-1zM94 576h1v1h-1zM97 576h1v1h-1zM111 576h1v1h-1zM155 576h1v1h-1zM386 576h1v1h-1zM392 576h2v1h-2zM399 576h1v1h-1zM540 576h2v1h-2zM576 576h1v1h-1zM602 576h1v1h-1zM612 576h1v1h-1zM634 576h1v1h-1zM718 576h1v1h-1zM818 576h3v1h-3zM824 576h2v1h-2zM852 576h2v1h-2zM857 576h3v1h-3zM866 576h1v1h-1zM873 576h1v1h-1zM878 576h2v1h-2zM886 576h1v1h-1zM893 576h2v1h-2zM904 576h1v1h-1zM203 560h2v1h-2zM218 560h1v1h-1zM226 560h3v1h-3zM240 560h1v1h-1zM267 560h5v1h-5zM302 560h1v1h-1zM304 560h1v1h-1zM671 560h2v1h-2zM677 560h4v1h-4zM39 579h1v1h-1zM48 579h1v1h-1zM73 579h1v1h-1zM85 579h3v1h-3zM92 579h1v1h-1zM104 579h2v1h-2zM108 579h1v1h-1zM113 579h1v1h-1zM153 579h1v1h-1zM401 579h1v1h-1zM482 579h1v1h-1zM489 579h3v1h-3zM499 579h2v1h-2zM538 579h1v1h-1zM578 579h1v1h-1zM600 579h1v1h-1zM613 579h1v1h-1zM632 579h1v1h-1zM719 579h1v1h-1zM742 579h1v1h-1zM745 579h2v1h-2zM748 579h2v1h-2zM752 579h1v1h-1zM811 579h1v1h-1zM869 579h3v1h-3zM906 579h1v1h-1zM53 586h2v1h-2zM56 586h2v1h-2zM60 586h1v1h-1zM65 586h1v1h-1zM137 586h2v1h-2zM141 586h3v1h-3zM404 586h1v1h-1zM419 586h1v1h-1zM448 586h1v1h-1zM457 586h2v1h-2zM461 586h3v1h-3zM469 586h2v1h-2zM477 586h1v1h-1zM495 586h1v1h-1zM738 586h2v1h-2zM761 586h1v1h-1zM773 586h3v1h-3zM782 586h2v1h-2zM793 586h2v1h-2zM797 586h4v1h-4zM808 586h1v1h-1zM921 586h1v1h-1zM50 582h1v1h-1zM69 582h2v1h-2zM116 582h2v1h-2zM146 582h1v1h-1zM402 582h1v1h-1zM437 582h4v1h-4zM479 582h1v1h-1zM493 582h1v1h-1zM497 582h1v1h-1zM517 582h4v1h-4zM524 582h2v1h-2zM536 582h1v1h-1zM579 582h2v1h-2zM594 582h1v1h-1zM597 582h3v1h-3zM615 582h2v1h-2zM626 582h1v1h-1zM722 582h1v1h-1zM725 582h4v1h-4zM741 582h1v1h-1zM755 582h2v1h-2zM810 582h1v1h-1zM907 582h1v1h-1zM25 564h3v1h-3zM184 564h2v1h-2zM188 564h2v1h-2zM193 564h4v1h-4zM200 564h1v1h-1zM215 564h1v1h-1zM241 564h1v1h-1zM265 564h1v1h-1zM280 564h1v1h-1zM293 564h7v1h-7zM306 564h1v1h-1zM308 564h1v1h-1zM313 564h1v1h-1zM322 564h2v1h-2zM329 564h1v1h-1zM347 564h1v1h-1zM666 564h1v1h-1zM685 564h1v1h-1zM31 577h1v1h-1zM37 577h1v1h-1zM41 577h1v1h-1zM46 577h1v1h-1zM74 577h1v1h-1zM76 577h2v1h-2zM93 577h1v1h-1zM98 577h1v1h-1zM110 577h1v1h-1zM112 577h1v1h-1zM154 577h1v1h-1zM386 577h1v1h-1zM389 577h3v1h-3zM400 577h1v1h-1zM539 577h1v1h-1zM577 577h1v1h-1zM601 577h1v1h-1zM612 577h1v1h-1zM634 577h1v1h-1zM718 577h1v1h-1zM743 577h1v1h-1zM816 577h2v1h-2zM821 577h3v1h-3zM854 577h3v1h-3zM867 577h1v1h-1zM873 577h1v1h-1zM887 577h2v1h-2zM892 577h1v1h-1zM905 577h1v1h-1zM186 563h2v1h-2zM201 563h1v1h-1zM213 563h2v1h-2zM216 563h1v1h-1zM241 563h1v1h-1zM265 563h1v1h-1zM275 563h5v1h-5zM300 563h1v1h-1zM306 563h1v1h-1zM309 563h1v1h-1zM313 563h1v1h-1zM324 563h1v1h-1zM328 563h1v1h-1zM667 563h1v1h-1zM684 563h1v1h-1zM15 566h2v1h-2zM20 566h2v1h-2zM28 566h1v1h-1zM182 566h1v1h-1zM242 566h1v1h-1zM251 566h1v1h-1zM264 566h1v1h-1zM281 566h1v1h-1zM290 566h1v1h-1zM315 566h5v1h-5zM330 566h1v1h-1zM344 566h1v1h-1zM350 566h3v1h-3zM551 566h1v1h-1zM664 566h1v1h-1zM686 566h1v1h-1zM863 566h1v1h-1zM410 591h6v1h-6zM766 591h2v1h-2zM38 578h1v1h-1zM40 578h1v1h-1zM47 578h1v1h-1zM73 578h1v1h-1zM78 578h7v1h-7zM93 578h1v1h-1zM99 578h5v1h-5zM109 578h1v1h-1zM113 578h1v1h-1zM153 578h1v1h-1zM387 578h2v1h-2zM400 578h1v1h-1zM483 578h6v1h-6zM538 578h1v1h-1zM577 578h1v1h-1zM601 578h1v1h-1zM613 578h1v1h-1zM633 578h1v1h-1zM719 578h1v1h-1zM743 578h2v1h-2zM750 578h2v1h-2zM811 578h5v1h-5zM867 578h2v1h-2zM872 578h1v1h-1zM889 578h3v1h-3zM905 578h1v1h-1zM22 565h3v1h-3zM27 565h1v1h-1zM183 565h1v1h-1zM190 565h3v1h-3zM197 565h3v1h-3zM241 565h1v1h-1zM264 565h1v1h-1zM280 565h1v1h-1zM291 565h2v1h-2zM307 565h1v1h-1zM314 565h1v1h-1zM320 565h2v1h-2zM330 565h1v1h-1zM345 565h2v1h-2zM348 565h2v1h-2zM665 565h1v1h-1zM686 565h1v1h-1zM863 565h1v1h-1zM218 559h1v1h-1zM224 559h2v1h-2zM229 559h3v1h-3zM239 559h1v1h-1zM303 559h1v1h-1zM673 559h4v1h-4zM13 567h2v1h-2zM17 567h3v1h-3zM28 567h1v1h-1zM181 567h1v1h-1zM242 567h1v1h-1zM249 567h2v1h-2zM252 567h1v1h-1zM263 567h1v1h-1zM282 567h1v1h-1zM289 567h1v1h-1zM331 567h13v1h-13zM353 567h3v1h-3zM550 567h1v1h-1zM552 567h1v1h-1zM661 567h3v1h-3zM687 567h1v1h-1zM862 567h1v1h-1zM864 567h1v1h-1zM30 574h1v1h-1zM43 574h1v1h-1zM95 574h2v1h-2zM157 574h1v1h-1zM359 574h1v1h-1zM385 574h1v1h-1zM544 574h1v1h-1zM571 574h5v1h-5zM603 574h1v1h-1zM608 574h2v1h-2zM637 574h3v1h-3zM647 574h1v1h-1zM717 574h1v1h-1zM828 574h1v1h-1zM850 574h1v1h-1zM860 574h1v1h-1zM866 574h1v1h-1zM875 574h1v1h-1zM881 574h1v1h-1zM885 574h1v1h-1zM896 574h2v1h-2zM903 574h1v1h-1zM12 568h1v1h-1zM28 568h1v1h-1zM167 568h1v1h-1zM180 568h1v1h-1zM242 568h1v1h-1zM248 568h1v1h-1zM253 568h1v1h-1zM262 568h1v1h-1zM282 568h1v1h-1zM288 568h1v1h-1zM356 568h1v1h-1zM549 568h1v1h-1zM553 568h1v1h-1zM653 568h8v1h-8zM688 568h1v1h-1zM862 568h1v1h-1zM864 568h1v1h-1zM233 557h2v1h-2zM236 557h2v1h-2zM63 589h1v1h-1zM407 589h1v1h-1zM417 589h1v1h-1zM474 589h2v1h-2zM763 589h1v1h-1zM769 589h1v1h-1zM787 589h2v1h-2zM806 589h2v1h-2zM923 589h1v1h-1zM202 561h1v1h-1zM205 561h7v1h-7zM217 561h1v1h-1zM240 561h1v1h-1zM266 561h1v1h-1zM272 561h1v1h-1zM301 561h1v1h-1zM304 561h1v1h-1zM311 561h1v1h-1zM327 561h1v1h-1zM669 561h2v1h-2zM681 561h3v1h-3zM219 558h5v1h-5zM232 558h1v1h-1zM238 558h2v1h-2zM408 590h2v1h-2zM416 590h1v1h-1zM764 590h2v1h-2zM768 590h1v1h-1zM235 556h1v1h-1z"/><text x="7.5" y="543.7" font-size="10" fill="#000" text-anchor="start" font-weight="normal" textLength="67" lengthAdjust="spacingAndGlyphs" stroke="#000" stroke-width="0.25" >RSI(14) 27.8491</text><text x="1169.2" y="542" font-size="9.6" fill="#000" text-anchor="start" font-weight="normal" textLength="14.7" lengthAdjust="spacingAndGlyphs" stroke="#000" stroke-width="0.25" >100</text><text x="1169.2" y="560.2" font-size="9.6" fill="#000" text-anchor="start" font-weight="normal" textLength="9.2" lengthAdjust="spacingAndGlyphs" stroke="#000" stroke-width="0.25" >70</text><text x="1169.2" y="591.3" font-size="9.6" fill="#000" text-anchor="start" font-weight="normal" textLength="9.2" lengthAdjust="spacingAndGlyphs" stroke="#000" stroke-width="0.25" >30</text><text x="1169.2" y="608" font-size="9.6" fill="#000" text-anchor="start" font-weight="normal" textLength="4.6" lengthAdjust="spacingAndGlyphs" stroke="#000" stroke-width="0.25" >0</text><g shape-rendering="crispEdges"><rect x="3" y="612" width="1" height="3" fill="#000" /><rect x="67" y="612" width="1" height="3" fill="#000" /><rect x="131" y="612" width="1" height="3" fill="#000" /><rect x="195" y="612" width="1" height="3" fill="#000" /><rect x="259" y="612" width="1" height="3" fill="#000" /><rect x="323" y="612" width="1" height="3" fill="#000" /><rect x="387" y="612" width="1" height="3" fill="#000" /><rect x="451" y="612" width="1" height="3" fill="#000" /><rect x="515" y="612" width="1" height="3" fill="#000" /><rect x="579" y="612" width="1" height="3" fill="#000" /><rect x="643" y="612" width="1" height="3" fill="#000" /><rect x="707" y="612" width="1" height="3" fill="#000" /><rect x="771" y="612" width="1" height="3" fill="#000" /><rect x="835" y="612" width="1" height="3" fill="#000" /><rect x="899" y="612" width="1" height="3" fill="#000" /></g><text x="2.6" y="624" font-size="9.8" fill="#000" text-anchor="start" font-weight="normal" textLength="50.9" lengthAdjust="spacingAndGlyphs" stroke="#000" stroke-width="0.25" >18 Feb 2021</text><text x="66.6" y="624" font-size="9.8" fill="#000" text-anchor="start" font-weight="normal" textLength="46.0" lengthAdjust="spacingAndGlyphs" stroke="#000" stroke-width="0.25" >9 Mar 2021</text><text x="130.6" y="624" font-size="9.8" fill="#000" text-anchor="start" font-weight="normal" textLength="51.0" lengthAdjust="spacingAndGlyphs" stroke="#000" stroke-width="0.25" >28 Mar 2021</text><text x="194.6" y="624" font-size="9.8" fill="#000" text-anchor="start" font-weight="normal" textLength="49.0" lengthAdjust="spacingAndGlyphs" stroke="#000" stroke-width="0.25" >16 Apr 2021</text><text x="258.6" y="624" font-size="9.8" fill="#000" text-anchor="start" font-weight="normal" textLength="47.5" lengthAdjust="spacingAndGlyphs" stroke="#000" stroke-width="0.25" >5 May 2021</text><text x="322.6" y="624" font-size="9.8" fill="#000" text-anchor="start" font-weight="normal" textLength="52.6" lengthAdjust="spacingAndGlyphs" stroke="#000" stroke-width="0.25" >24 May 2021</text><text x="386.6" y="624" font-size="9.8" fill="#000" text-anchor="start" font-weight="normal" textLength="49.4" lengthAdjust="spacingAndGlyphs" stroke="#000" stroke-width="0.25" >11 Jun 2021</text><text x="450.6" y="624" font-size="9.8" fill="#000" text-anchor="start" font-weight="normal" textLength="49.6" lengthAdjust="spacingAndGlyphs" stroke="#000" stroke-width="0.25" >30 Jun 2021</text><text x="514.6" y="624" font-size="9.8" fill="#000" text-anchor="start" font-weight="normal" textLength="46.4" lengthAdjust="spacingAndGlyphs" stroke="#000" stroke-width="0.25" >19 Jul 2021</text><text x="578.6" y="624" font-size="9.8" fill="#000" text-anchor="start" font-weight="normal" textLength="47.4" lengthAdjust="spacingAndGlyphs" stroke="#000" stroke-width="0.25" >6 Aug 2021</text><text x="642.6" y="624" font-size="9.8" fill="#000" text-anchor="start" font-weight="normal" textLength="52.3" lengthAdjust="spacingAndGlyphs" stroke="#000" stroke-width="0.25" >25 Aug 2021</text><text x="706.6" y="624" font-size="9.8" fill="#000" text-anchor="start" font-weight="normal" textLength="51.3" lengthAdjust="spacingAndGlyphs" stroke="#000" stroke-width="0.25" >13 Sep 2021</text><text x="770.6" y="624" font-size="9.8" fill="#000" text-anchor="start" font-weight="normal" textLength="44.5" lengthAdjust="spacingAndGlyphs" stroke="#000" stroke-width="0.25" >1 Oct 2021</text><text x="834.6" y="624" font-size="9.8" fill="#000" text-anchor="start" font-weight="normal" textLength="49.5" lengthAdjust="spacingAndGlyphs" stroke="#000" stroke-width="0.25" >20 Oct 2021</text><text x="898.6" y="624" font-size="9.8" fill="#000" text-anchor="start" font-weight="normal" textLength="46.5" lengthAdjust="spacingAndGlyphs" stroke="#000" stroke-width="0.25" >8 Nov 2021</text><g shape-rendering="crispEdges"><rect x="0" y="632" width="1208" height="1" fill="#e3e3e3" /><rect x="0" y="633" width="1208" height="1" fill="#ffffff" /><rect x="0" y="634" width="1208" height="1" fill="#000" /><rect x="0" y="635" width="1208" height="22" fill="#f0f0f0" /><rect x="0" y="654" width="1208" height="1" fill="#fafafa" /><rect x="0" y="657" width="1208" height="1" fill="#c4c4c4" /><rect x="0" y="658" width="1208" height="1" fill="#a0a0a0" /><rect x="104" y="633" width="108" height="20" fill="#000" /><rect x="105" y="633" width="106" height="19" fill="#fff" /></g><text x="15.5" y="649" font-size="12.4" fill="#6e6e6e" text-anchor="start" font-weight="normal" textLength="76.9" lengthAdjust="spacingAndGlyphs" stroke="#6e6e6e" stroke-width="0.05" >USDX,Weekly</text><text x="115.3" y="649" font-size="12.4" fill="#000" text-anchor="start" font-weight="normal" textLength="84.5" lengthAdjust="spacingAndGlyphs" stroke="#000" stroke-width="0.2" >EURUSD-,Daily</text><text x="222.4" y="649" font-size="12.4" fill="#6e6e6e" text-anchor="start" font-weight="normal" textLength="86.1" lengthAdjust="spacingAndGlyphs" stroke="#6e6e6e" stroke-width="0.05" >AUDUSD-,Daily</text><text x="331" y="649" font-size="12.4" fill="#6e6e6e" text-anchor="start" font-weight="normal" textLength="72" lengthAdjust="spacingAndGlyphs" stroke="#6e6e6e" stroke-width="0.05" >USDCHF-,H4</text><text x="427" y="649" font-size="12.4" fill="#6e6e6e" text-anchor="start" font-weight="normal" textLength="86" lengthAdjust="spacingAndGlyphs" stroke="#6e6e6e" stroke-width="0.05" >USDCAD-,Daily</text><text x="536" y="649" font-size="12.4" fill="#6e6e6e" text-anchor="start" font-weight="normal" textLength="88" lengthAdjust="spacingAndGlyphs" stroke="#6e6e6e" stroke-width="0.05" >USDCNH-,Daily</text><text x="647" y="649" font-size="12.4" fill="#6e6e6e" text-anchor="start" font-weight="normal" textLength="74" lengthAdjust="spacingAndGlyphs" stroke="#6e6e6e" stroke-width="0.05" >XAUUSD-,H1</text><g shape-rendering="crispEdges"><rect x="320" y="637" width="1" height="14" fill="#6e6e6e" /><rect x="416" y="637" width="1" height="14" fill="#6e6e6e" /><rect x="526" y="637" width="1" height="14" fill="#6e6e6e" /><rect x="635" y="637" width="1" height="14" fill="#6e6e6e" /><rect x="733" y="637" width="1" height="14" fill="#6e6e6e" /></g><path d="M1184.5 639.5 L1181 643 L1184.5 646.5 Z" fill="#9a9a9a"/><path d="M1200 639.5 L1203.5 643 L1200 646.5 Z" fill="#9a9a9a"/><g shape-rendering="crispEdges"><rect x="3" y="44" width="224" height="61" fill="#ffffff" /><rect x="6" y="46" width="52" height="25" fill="url(#gsell)" /><rect x="173" y="46" width="52" height="25" fill="url(#gsell)" /><rect x="6" y="70" width="109" height="33" fill="url(#gprice)" /><rect x="117" y="70" width="108" height="33" fill="url(#gprice)" /><rect x="6" y="70" width="109" height="1" fill="#b00000" /><rect x="117" y="70" width="108" height="1" fill="#b00000" /><rect x="6" y="46" width="1" height="57" fill="#b80000" /><rect x="114" y="70" width="1" height="33" fill="#b00000" /><rect x="117" y="70" width="1" height="33" fill="#b00000" /><rect x="224" y="46" width="1" height="57" fill="#b00000" /><rect x="57" y="46" width="1" height="24" fill="#b80000" /><rect x="173" y="46" width="1" height="24" fill="#b80000" /><rect x="6" y="46" width="52" height="1" fill="#c00000" /><rect x="173" y="46" width="52" height="1" fill="#c00000" /><rect x="6" y="102" width="109" height="1" fill="#a00000" /><rect x="117" y="102" width="108" height="1" fill="#a00000" /><rect x="7" y="70" width="50" height="1" fill="#e04848" /><rect x="174" y="70" width="50" height="1" fill="#e04848" /><rect x="10" y="69" width="44" height="1" fill="#8c0000" /><rect x="177" y="69" width="44" height="1" fill="#8c0000" /><rect x="60.5" y="46.5" width="110" height="21" fill="#ffffff" stroke="#a9adb5" stroke-width="1"/><rect x="62" y="48" width="19" height="18" fill="url(#gspin)" /><rect x="81" y="47" width="1" height="20" fill="#b0b0b0" /><rect x="150" y="48" width="19" height="18" fill="url(#gspin)" /><rect x="149" y="47" width="1" height="20" fill="#b0b0b0" /></g><path d="M67.8 54.5 L73.2 54.5 L70.5 57.5 Z" fill="#4a60b8"/><path d="M156 58 L162 58 L159 55 Z" fill="#5a6fc0"/><text x="18.6" y="61.8" font-size="12.4" fill="#fff" text-anchor="start" font-weight="normal" textLength="24.9" lengthAdjust="spacingAndGlyphs" stroke="#fff" stroke-width="0.1" >SELL</text><text x="186.4" y="61.8" font-size="12.4" fill="#fff" text-anchor="start" font-weight="normal" textLength="23.4" lengthAdjust="spacingAndGlyphs" stroke="#fff" stroke-width="0.1" >BUY</text><text x="122.7" y="60.7" font-size="12.4" fill="#000" text-anchor="start" font-weight="normal" textLength="22.9" lengthAdjust="spacingAndGlyphs" stroke="#000" stroke-width="0.25" >3.00</text><text x="26.5" y="97.9" font-size="12.4" fill="#fff" text-anchor="start" font-weight="bold" textLength="22.9" lengthAdjust="spacingAndGlyphs" >1.13</text><text x="136.5" y="97.9" font-size="12.4" fill="#fff" text-anchor="start" font-weight="bold" textLength="22.9" lengthAdjust="spacingAndGlyphs" >1.13</text><text x="54.7" y="98.2" font-size="35" fill="#fff" text-anchor="start" font-weight="normal" textLength="33.3" lengthAdjust="spacingAndGlyphs" >66</text><text x="165.2" y="98.2" font-size="35" fill="#fff" text-anchor="start" font-weight="normal" textLength="33.4" lengthAdjust="spacingAndGlyphs" >68</text><text x="92.9" y="82.5" font-size="10" fill="#fff" text-anchor="start" font-weight="bold" textLength="6.9" lengthAdjust="spacingAndGlyphs" >0</text><text x="203.4" y="81.4" font-size="10" fill="#fff" text-anchor="start" font-weight="bold" textLength="7.4" lengthAdjust="spacingAndGlyphs" >0</text></svg></body></html>
